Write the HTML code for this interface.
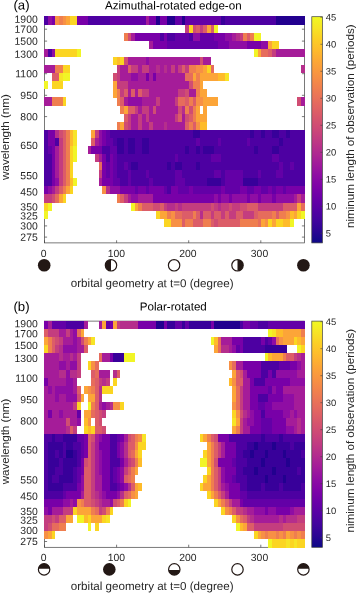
<!DOCTYPE html>
<html><head><meta charset="utf-8"><title>figure</title>
<style>html,body{margin:0;padding:0;background:#fff}svg{display:block}</style></head>
<body>
<svg width="357" height="593" viewBox="0 0 357 593" font-family="Liberation Sans, Arial, sans-serif">
<defs><filter id="bl" filterUnits="userSpaceOnUse" x="30" y="0" width="290" height="593"><feGaussianBlur stdDeviation="0.45"/></filter><linearGradient id="cb" x1="0" y1="0" x2="0" y2="1"><stop offset="0.000" stop-color="#f0f921"/><stop offset="0.050" stop-color="#f7e425"/><stop offset="0.100" stop-color="#fcce25"/><stop offset="0.150" stop-color="#feba2c"/><stop offset="0.200" stop-color="#fca636"/><stop offset="0.250" stop-color="#f89540"/><stop offset="0.300" stop-color="#f2844b"/><stop offset="0.350" stop-color="#ea7457"/><stop offset="0.400" stop-color="#e16462"/><stop offset="0.450" stop-color="#d6556d"/><stop offset="0.500" stop-color="#cc4778"/><stop offset="0.550" stop-color="#bf3984"/><stop offset="0.600" stop-color="#b12a90"/><stop offset="0.650" stop-color="#a11b9b"/><stop offset="0.700" stop-color="#8f0da4"/><stop offset="0.750" stop-color="#7e03a8"/><stop offset="0.800" stop-color="#6a00a8"/><stop offset="0.850" stop-color="#5601a4"/><stop offset="0.900" stop-color="#41049d"/><stop offset="0.950" stop-color="#2a0593"/><stop offset="1.000" stop-color="#0d0887"/></linearGradient></defs>
<rect width="357" height="593" fill="#fff"/>
<rect x="44.50" y="16.70" width="260.00" height="226.20" fill="none" stroke="#404040" stroke-width="0.7"/>
<path d="M44.50 19.20h2.6M304.50 19.20h-2.6" stroke="#404040" stroke-width="0.7"/>
<text transform="translate(37.70 22.80) rotate(0.03)" text-anchor="end" font-size="10.4" fill="#262626">1900</text>
<path d="M44.50 29.20h2.6M304.50 29.20h-2.6" stroke="#404040" stroke-width="0.7"/>
<text transform="translate(37.70 32.80) rotate(0.03)" text-anchor="end" font-size="10.4" fill="#262626">1700</text>
<path d="M44.50 41.10h2.6M304.50 41.10h-2.6" stroke="#404040" stroke-width="0.7"/>
<text transform="translate(37.70 44.70) rotate(0.03)" text-anchor="end" font-size="10.4" fill="#262626">1500</text>
<path d="M44.50 54.10h2.6M304.50 54.10h-2.6" stroke="#404040" stroke-width="0.7"/>
<text transform="translate(37.70 57.70) rotate(0.03)" text-anchor="end" font-size="10.4" fill="#262626">1300</text>
<path d="M44.50 73.70h2.6M304.50 73.70h-2.6" stroke="#404040" stroke-width="0.7"/>
<text transform="translate(37.70 77.30) rotate(0.03)" text-anchor="end" font-size="10.4" fill="#262626">1100</text>
<path d="M44.50 95.30h2.6M304.50 95.30h-2.6" stroke="#404040" stroke-width="0.7"/>
<text transform="translate(37.70 98.90) rotate(0.03)" text-anchor="end" font-size="10.4" fill="#262626">950</text>
<path d="M44.50 116.60h2.6M304.50 116.60h-2.6" stroke="#404040" stroke-width="0.7"/>
<text transform="translate(37.70 120.20) rotate(0.03)" text-anchor="end" font-size="10.4" fill="#262626">800</text>
<path d="M44.50 145.50h2.6M304.50 145.50h-2.6" stroke="#404040" stroke-width="0.7"/>
<text transform="translate(37.70 149.10) rotate(0.03)" text-anchor="end" font-size="10.4" fill="#262626">650</text>
<path d="M44.50 175.60h2.6M304.50 175.60h-2.6" stroke="#404040" stroke-width="0.7"/>
<text transform="translate(37.70 179.20) rotate(0.03)" text-anchor="end" font-size="10.4" fill="#262626">550</text>
<path d="M44.50 191.80h2.6M304.50 191.80h-2.6" stroke="#404040" stroke-width="0.7"/>
<text transform="translate(37.70 195.40) rotate(0.03)" text-anchor="end" font-size="10.4" fill="#262626">450</text>
<path d="M44.50 207.00h2.6M304.50 207.00h-2.6" stroke="#404040" stroke-width="0.7"/>
<text transform="translate(37.70 210.60) rotate(0.03)" text-anchor="end" font-size="10.4" fill="#262626">350</text>
<path d="M44.50 215.80h2.6M304.50 215.80h-2.6" stroke="#404040" stroke-width="0.7"/>
<text transform="translate(37.70 219.40) rotate(0.03)" text-anchor="end" font-size="10.4" fill="#262626">325</text>
<path d="M44.50 225.90h2.6M304.50 225.90h-2.6" stroke="#404040" stroke-width="0.7"/>
<text transform="translate(37.70 229.50) rotate(0.03)" text-anchor="end" font-size="10.4" fill="#262626">300</text>
<path d="M44.50 237.10h2.6M304.50 237.10h-2.6" stroke="#404040" stroke-width="0.7"/>
<text transform="translate(37.70 240.70) rotate(0.03)" text-anchor="end" font-size="10.4" fill="#262626">275</text>
<path d="M44.50 242.90v-2.6M44.50 16.70v2.6" stroke="#404040" stroke-width="0.7"/>
<text transform="translate(43.60 256.90) rotate(0.03)" text-anchor="middle" font-size="10.4" fill="#262626">0</text>
<path d="M116.60 242.90v-2.6M116.60 16.70v2.6" stroke="#404040" stroke-width="0.7"/>
<text transform="translate(116.30 256.90) rotate(0.03)" text-anchor="middle" font-size="10.4" fill="#262626">100</text>
<path d="M188.70 242.90v-2.6M188.70 16.70v2.6" stroke="#404040" stroke-width="0.7"/>
<text transform="translate(187.80 256.90) rotate(0.03)" text-anchor="middle" font-size="10.4" fill="#262626">200</text>
<path d="M260.80 242.90v-2.6M260.80 16.70v2.6" stroke="#404040" stroke-width="0.7"/>
<text transform="translate(259.50 256.90) rotate(0.03)" text-anchor="middle" font-size="10.4" fill="#262626">300</text>
<g filter="url(#bl)"><g shape-rendering="crispEdges"><rect x="44.10" y="16.30" width="4.06" height="8.53" fill="#4e02a2"/>
<rect x="48.11" y="16.30" width="3.66" height="8.53" fill="#8f0da4"/>
<rect x="51.72" y="16.30" width="3.66" height="8.53" fill="#7801a8"/>
<rect x="55.33" y="16.30" width="3.66" height="8.53" fill="#f79044"/>
<rect x="58.94" y="16.30" width="3.66" height="8.53" fill="#ef7e50"/>
<rect x="62.56" y="16.30" width="3.66" height="8.53" fill="#f79044"/>
<rect x="66.17" y="16.30" width="3.66" height="8.53" fill="#fca537"/>
<rect x="69.78" y="16.30" width="7.27" height="8.53" fill="#fbd524"/>
<rect x="77.00" y="16.30" width="10.88" height="8.53" fill="#7801a8"/>
<rect x="87.83" y="16.30" width="21.72" height="8.53" fill="#4e02a2"/>
<rect x="109.50" y="16.30" width="36.16" height="8.53" fill="#6300a7"/>
<rect x="145.61" y="16.30" width="3.66" height="8.53" fill="#a51f99"/>
<rect x="149.22" y="16.30" width="7.27" height="8.53" fill="#7801a8"/>
<rect x="156.44" y="16.30" width="3.66" height="8.53" fill="#20068f"/>
<rect x="160.06" y="16.30" width="7.27" height="8.53" fill="#7801a8"/>
<rect x="167.28" y="16.30" width="7.27" height="8.53" fill="#20068f"/>
<rect x="174.50" y="16.30" width="7.27" height="8.53" fill="#6300a7"/>
<rect x="181.72" y="16.30" width="3.66" height="8.53" fill="#20068f"/>
<rect x="185.33" y="16.30" width="36.16" height="8.53" fill="#6300a7"/>
<rect x="221.44" y="16.30" width="3.66" height="8.53" fill="#38049a"/>
<rect x="225.06" y="16.30" width="50.61" height="8.53" fill="#4e02a2"/>
<rect x="275.61" y="16.30" width="29.34" height="8.53" fill="#20068f"/>
<rect x="185.33" y="24.78" width="3.66" height="8.13" fill="#c43e7f"/>
<rect x="188.94" y="24.78" width="3.66" height="8.13" fill="#fbd524"/>
<rect x="192.56" y="24.78" width="3.66" height="8.13" fill="#d04d73"/>
<rect x="196.17" y="24.78" width="3.66" height="8.13" fill="#dc5d67"/>
<rect x="199.78" y="24.78" width="3.66" height="8.13" fill="#c43e7f"/>
<rect x="203.39" y="24.78" width="3.66" height="8.13" fill="#dc5d67"/>
<rect x="207.00" y="24.78" width="3.66" height="8.13" fill="#fca537"/>
<rect x="210.61" y="24.78" width="3.66" height="8.13" fill="#dc5d67"/>
<rect x="214.22" y="24.78" width="3.66" height="8.13" fill="#f1f525"/>
<rect x="123.94" y="32.86" width="3.66" height="8.13" fill="#ef7e50"/>
<rect x="127.56" y="32.86" width="3.66" height="8.13" fill="#d04d73"/>
<rect x="131.17" y="32.86" width="3.66" height="8.13" fill="#a51f99"/>
<rect x="134.78" y="32.86" width="25.33" height="8.13" fill="#7801a8"/>
<rect x="160.06" y="32.86" width="3.66" height="8.13" fill="#4e02a2"/>
<rect x="163.67" y="32.86" width="3.66" height="8.13" fill="#7801a8"/>
<rect x="167.28" y="32.86" width="7.27" height="8.13" fill="#4e02a2"/>
<rect x="174.50" y="32.86" width="14.49" height="8.13" fill="#6300a7"/>
<rect x="188.94" y="32.86" width="3.66" height="8.13" fill="#4e02a2"/>
<rect x="192.56" y="32.86" width="7.27" height="8.13" fill="#8f0da4"/>
<rect x="199.78" y="32.86" width="14.49" height="8.13" fill="#6300a7"/>
<rect x="214.22" y="32.86" width="10.88" height="8.13" fill="#7801a8"/>
<rect x="225.06" y="32.86" width="7.27" height="8.13" fill="#8f0da4"/>
<rect x="232.28" y="32.86" width="3.66" height="8.13" fill="#a51f99"/>
<rect x="235.89" y="32.86" width="3.66" height="8.13" fill="#b52f8c"/>
<rect x="239.50" y="32.86" width="3.66" height="8.13" fill="#c43e7f"/>
<rect x="243.11" y="32.86" width="3.66" height="8.13" fill="#ef7e50"/>
<rect x="246.72" y="32.86" width="3.66" height="8.13" fill="#dc5d67"/>
<rect x="250.33" y="32.86" width="3.66" height="8.13" fill="#ef7e50"/>
<rect x="253.94" y="32.86" width="7.27" height="8.13" fill="#f1f525"/>
<rect x="149.22" y="40.94" width="3.66" height="8.13" fill="#a51f99"/>
<rect x="152.83" y="40.94" width="14.49" height="8.13" fill="#7801a8"/>
<rect x="167.28" y="40.94" width="50.61" height="8.13" fill="#6300a7"/>
<rect x="217.83" y="40.94" width="10.88" height="8.13" fill="#7801a8"/>
<rect x="228.67" y="40.94" width="18.11" height="8.13" fill="#8f0da4"/>
<rect x="246.72" y="40.94" width="14.49" height="8.13" fill="#7801a8"/>
<rect x="261.17" y="40.94" width="7.27" height="8.13" fill="#8f0da4"/>
<rect x="268.39" y="40.94" width="3.66" height="8.13" fill="#fca537"/>
<rect x="272.00" y="40.94" width="7.27" height="8.13" fill="#fbd524"/>
<rect x="44.10" y="49.01" width="4.06" height="8.13" fill="#a51f99"/>
<rect x="48.11" y="49.01" width="3.66" height="8.13" fill="#4e02a2"/>
<rect x="51.72" y="49.01" width="3.66" height="8.13" fill="#8f0da4"/>
<rect x="55.33" y="49.01" width="21.72" height="8.13" fill="#fbd524"/>
<rect x="77.00" y="49.01" width="3.66" height="8.13" fill="#f1f525"/>
<rect x="253.94" y="49.01" width="3.66" height="8.13" fill="#f1f525"/>
<rect x="257.56" y="49.01" width="3.66" height="8.13" fill="#fca537"/>
<rect x="261.17" y="49.01" width="7.27" height="8.13" fill="#e66c5c"/>
<rect x="268.39" y="49.01" width="3.66" height="8.13" fill="#dc5d67"/>
<rect x="272.00" y="49.01" width="3.66" height="8.13" fill="#c43e7f"/>
<rect x="275.61" y="49.01" width="29.34" height="8.13" fill="#a51f99"/>
<rect x="113.11" y="57.09" width="3.66" height="8.13" fill="#fbd524"/>
<rect x="116.72" y="57.09" width="3.66" height="8.13" fill="#febb2b"/>
<rect x="120.33" y="57.09" width="3.66" height="8.13" fill="#fbd524"/>
<rect x="123.94" y="57.09" width="3.66" height="8.13" fill="#d04d73"/>
<rect x="127.56" y="57.09" width="18.11" height="8.13" fill="#a51f99"/>
<rect x="145.61" y="57.09" width="3.66" height="8.13" fill="#8f0da4"/>
<rect x="149.22" y="57.09" width="50.61" height="8.13" fill="#a51f99"/>
<rect x="199.78" y="57.09" width="3.66" height="8.13" fill="#d04d73"/>
<rect x="203.39" y="57.09" width="7.27" height="8.13" fill="#a51f99"/>
<rect x="44.10" y="65.17" width="11.28" height="8.13" fill="#a51f99"/>
<rect x="55.33" y="65.17" width="7.27" height="8.13" fill="#ef7e50"/>
<rect x="62.56" y="65.17" width="7.27" height="8.13" fill="#fbd524"/>
<rect x="116.72" y="65.17" width="3.66" height="8.13" fill="#c43e7f"/>
<rect x="120.33" y="65.17" width="7.27" height="8.13" fill="#a51f99"/>
<rect x="127.56" y="65.17" width="3.66" height="8.13" fill="#dc5d67"/>
<rect x="131.17" y="65.17" width="7.27" height="8.13" fill="#c43e7f"/>
<rect x="138.39" y="65.17" width="3.66" height="8.13" fill="#a51f99"/>
<rect x="142.00" y="65.17" width="7.27" height="8.13" fill="#c43e7f"/>
<rect x="149.22" y="65.17" width="7.27" height="8.13" fill="#a51f99"/>
<rect x="156.44" y="65.17" width="3.66" height="8.13" fill="#b52f8c"/>
<rect x="160.06" y="65.17" width="3.66" height="8.13" fill="#a51f99"/>
<rect x="163.67" y="65.17" width="3.66" height="8.13" fill="#b52f8c"/>
<rect x="167.28" y="65.17" width="3.66" height="8.13" fill="#a51f99"/>
<rect x="170.89" y="65.17" width="3.66" height="8.13" fill="#c43e7f"/>
<rect x="174.50" y="65.17" width="3.66" height="8.13" fill="#a51f99"/>
<rect x="178.11" y="65.17" width="3.66" height="8.13" fill="#c43e7f"/>
<rect x="181.72" y="65.17" width="3.66" height="8.13" fill="#dc5d67"/>
<rect x="185.33" y="65.17" width="3.66" height="8.13" fill="#c43e7f"/>
<rect x="188.94" y="65.17" width="7.27" height="8.13" fill="#ef7e50"/>
<rect x="196.17" y="65.17" width="7.27" height="8.13" fill="#f79044"/>
<rect x="203.39" y="65.17" width="3.66" height="8.13" fill="#fca537"/>
<rect x="207.00" y="65.17" width="3.66" height="8.13" fill="#fbd524"/>
<rect x="210.61" y="65.17" width="3.66" height="8.13" fill="#e66c5c"/>
<rect x="300.89" y="65.17" width="4.06" height="8.13" fill="#b52f8c"/>
<rect x="51.72" y="73.25" width="7.27" height="8.13" fill="#dc5d67"/>
<rect x="58.94" y="73.25" width="3.66" height="8.13" fill="#f7e425"/>
<rect x="62.56" y="73.25" width="7.27" height="8.13" fill="#f1f525"/>
<rect x="113.11" y="73.25" width="3.66" height="8.13" fill="#d04d73"/>
<rect x="116.72" y="73.25" width="3.66" height="8.13" fill="#c43e7f"/>
<rect x="120.33" y="73.25" width="10.88" height="8.13" fill="#a51f99"/>
<rect x="131.17" y="73.25" width="7.27" height="8.13" fill="#8f0da4"/>
<rect x="138.39" y="73.25" width="7.27" height="8.13" fill="#a51f99"/>
<rect x="145.61" y="73.25" width="3.66" height="8.13" fill="#7801a8"/>
<rect x="149.22" y="73.25" width="3.66" height="8.13" fill="#a51f99"/>
<rect x="152.83" y="73.25" width="3.66" height="8.13" fill="#7801a8"/>
<rect x="156.44" y="73.25" width="28.94" height="8.13" fill="#a51f99"/>
<rect x="185.33" y="73.25" width="7.27" height="8.13" fill="#e66c5c"/>
<rect x="192.56" y="73.25" width="3.66" height="8.13" fill="#fca537"/>
<rect x="196.17" y="73.25" width="3.66" height="8.13" fill="#ef7e50"/>
<rect x="199.78" y="73.25" width="18.11" height="8.13" fill="#fca537"/>
<rect x="217.83" y="73.25" width="7.27" height="8.13" fill="#febb2b"/>
<rect x="225.06" y="73.25" width="3.66" height="8.13" fill="#f7e425"/>
<rect x="44.10" y="81.33" width="4.06" height="8.13" fill="#f1f525"/>
<rect x="51.72" y="81.33" width="10.88" height="8.13" fill="#fbd524"/>
<rect x="113.11" y="81.33" width="3.66" height="8.13" fill="#fca537"/>
<rect x="116.72" y="81.33" width="10.88" height="8.13" fill="#c43e7f"/>
<rect x="127.56" y="81.33" width="61.44" height="8.13" fill="#a51f99"/>
<rect x="188.94" y="81.33" width="3.66" height="8.13" fill="#d04d73"/>
<rect x="192.56" y="81.33" width="7.27" height="8.13" fill="#ef7e50"/>
<rect x="199.78" y="81.33" width="3.66" height="8.13" fill="#fca537"/>
<rect x="113.11" y="89.41" width="3.66" height="8.13" fill="#fca537"/>
<rect x="116.72" y="89.41" width="3.66" height="8.13" fill="#ef7e50"/>
<rect x="120.33" y="89.41" width="3.66" height="8.13" fill="#c43e7f"/>
<rect x="123.94" y="89.41" width="3.66" height="8.13" fill="#dc5d67"/>
<rect x="127.56" y="89.41" width="3.66" height="8.13" fill="#a51f99"/>
<rect x="131.17" y="89.41" width="3.66" height="8.13" fill="#dc5d67"/>
<rect x="134.78" y="89.41" width="3.66" height="8.13" fill="#a51f99"/>
<rect x="138.39" y="89.41" width="3.66" height="8.13" fill="#dc5d67"/>
<rect x="142.00" y="89.41" width="7.27" height="8.13" fill="#c43e7f"/>
<rect x="149.22" y="89.41" width="28.94" height="8.13" fill="#a51f99"/>
<rect x="178.11" y="89.41" width="7.27" height="8.13" fill="#c43e7f"/>
<rect x="185.33" y="89.41" width="3.66" height="8.13" fill="#d04d73"/>
<rect x="188.94" y="89.41" width="7.27" height="8.13" fill="#a51f99"/>
<rect x="196.17" y="89.41" width="3.66" height="8.13" fill="#ef7e50"/>
<rect x="199.78" y="89.41" width="7.27" height="8.13" fill="#fca537"/>
<rect x="44.10" y="97.49" width="7.67" height="8.13" fill="#a51f99"/>
<rect x="51.72" y="97.49" width="10.88" height="8.13" fill="#ef7e50"/>
<rect x="62.56" y="97.49" width="3.66" height="8.13" fill="#fbd524"/>
<rect x="116.72" y="97.49" width="3.66" height="8.13" fill="#ef7e50"/>
<rect x="120.33" y="97.49" width="3.66" height="8.13" fill="#dc5d67"/>
<rect x="123.94" y="97.49" width="3.66" height="8.13" fill="#a51f99"/>
<rect x="127.56" y="97.49" width="14.49" height="8.13" fill="#8f0da4"/>
<rect x="142.00" y="97.49" width="14.49" height="8.13" fill="#a51f99"/>
<rect x="156.44" y="97.49" width="3.66" height="8.13" fill="#c43e7f"/>
<rect x="160.06" y="97.49" width="14.49" height="8.13" fill="#a51f99"/>
<rect x="174.50" y="97.49" width="3.66" height="8.13" fill="#c43e7f"/>
<rect x="178.11" y="97.49" width="7.27" height="8.13" fill="#e66c5c"/>
<rect x="185.33" y="97.49" width="3.66" height="8.13" fill="#dc5d67"/>
<rect x="188.94" y="97.49" width="3.66" height="8.13" fill="#ef7e50"/>
<rect x="192.56" y="97.49" width="3.66" height="8.13" fill="#dc5d67"/>
<rect x="196.17" y="97.49" width="7.27" height="8.13" fill="#f79044"/>
<rect x="203.39" y="97.49" width="14.49" height="8.13" fill="#fca537"/>
<rect x="297.28" y="97.49" width="3.66" height="8.13" fill="#d04d73"/>
<rect x="300.89" y="97.49" width="4.06" height="8.13" fill="#a51f99"/>
<rect x="120.33" y="105.56" width="3.66" height="8.13" fill="#ef7e50"/>
<rect x="123.94" y="105.56" width="3.66" height="8.13" fill="#fca537"/>
<rect x="127.56" y="105.56" width="7.27" height="8.13" fill="#dc5d67"/>
<rect x="134.78" y="105.56" width="3.66" height="8.13" fill="#c43e7f"/>
<rect x="138.39" y="105.56" width="3.66" height="8.13" fill="#a51f99"/>
<rect x="142.00" y="105.56" width="7.27" height="8.13" fill="#c43e7f"/>
<rect x="149.22" y="105.56" width="3.66" height="8.13" fill="#a51f99"/>
<rect x="152.83" y="105.56" width="3.66" height="8.13" fill="#d04d73"/>
<rect x="156.44" y="105.56" width="21.72" height="8.13" fill="#a51f99"/>
<rect x="178.11" y="105.56" width="3.66" height="8.13" fill="#d04d73"/>
<rect x="181.72" y="105.56" width="3.66" height="8.13" fill="#b52f8c"/>
<rect x="185.33" y="105.56" width="3.66" height="8.13" fill="#ef7e50"/>
<rect x="188.94" y="105.56" width="3.66" height="8.13" fill="#d04d73"/>
<rect x="192.56" y="105.56" width="3.66" height="8.13" fill="#ef7e50"/>
<rect x="196.17" y="105.56" width="3.66" height="8.13" fill="#fca537"/>
<rect x="203.39" y="105.56" width="3.66" height="8.13" fill="#fca537"/>
<rect x="123.94" y="113.64" width="3.66" height="8.13" fill="#dc5d67"/>
<rect x="127.56" y="113.64" width="3.66" height="8.13" fill="#c43e7f"/>
<rect x="131.17" y="113.64" width="7.27" height="8.13" fill="#a51f99"/>
<rect x="138.39" y="113.64" width="3.66" height="8.13" fill="#c43e7f"/>
<rect x="142.00" y="113.64" width="3.66" height="8.13" fill="#a51f99"/>
<rect x="145.61" y="113.64" width="3.66" height="8.13" fill="#c43e7f"/>
<rect x="149.22" y="113.64" width="25.33" height="8.13" fill="#a51f99"/>
<rect x="174.50" y="113.64" width="3.66" height="8.13" fill="#c43e7f"/>
<rect x="178.11" y="113.64" width="3.66" height="8.13" fill="#dc5d67"/>
<rect x="181.72" y="113.64" width="3.66" height="8.13" fill="#a51f99"/>
<rect x="185.33" y="113.64" width="3.66" height="8.13" fill="#d04d73"/>
<rect x="188.94" y="113.64" width="3.66" height="8.13" fill="#dc5d67"/>
<rect x="192.56" y="113.64" width="3.66" height="8.13" fill="#ef7e50"/>
<rect x="196.17" y="113.64" width="10.88" height="8.13" fill="#fca537"/>
<rect x="116.72" y="121.72" width="3.66" height="8.13" fill="#ef7e50"/>
<rect x="120.33" y="121.72" width="3.66" height="8.13" fill="#fca537"/>
<rect x="123.94" y="121.72" width="3.66" height="8.13" fill="#d04d73"/>
<rect x="127.56" y="121.72" width="3.66" height="8.13" fill="#c43e7f"/>
<rect x="131.17" y="121.72" width="7.27" height="8.13" fill="#a51f99"/>
<rect x="138.39" y="121.72" width="3.66" height="8.13" fill="#c43e7f"/>
<rect x="142.00" y="121.72" width="7.27" height="8.13" fill="#a51f99"/>
<rect x="149.22" y="121.72" width="3.66" height="8.13" fill="#c43e7f"/>
<rect x="152.83" y="121.72" width="10.88" height="8.13" fill="#a51f99"/>
<rect x="163.67" y="121.72" width="3.66" height="8.13" fill="#b52f8c"/>
<rect x="167.28" y="121.72" width="18.11" height="8.13" fill="#a51f99"/>
<rect x="185.33" y="121.72" width="3.66" height="8.13" fill="#dc5d67"/>
<rect x="188.94" y="121.72" width="3.66" height="8.13" fill="#ef7e50"/>
<rect x="192.56" y="121.72" width="3.66" height="8.13" fill="#dc5d67"/>
<rect x="196.17" y="121.72" width="3.66" height="8.13" fill="#f79044"/>
<rect x="199.78" y="121.72" width="7.27" height="8.13" fill="#febb2b"/>
<rect x="44.10" y="129.80" width="4.06" height="8.13" fill="#4e02a2"/>
<rect x="48.11" y="129.80" width="7.27" height="8.13" fill="#7801a8"/>
<rect x="55.33" y="129.80" width="3.66" height="8.13" fill="#b52f8c"/>
<rect x="58.94" y="129.80" width="3.66" height="8.13" fill="#d04d73"/>
<rect x="62.56" y="129.80" width="3.66" height="8.13" fill="#dc5d67"/>
<rect x="66.17" y="129.80" width="3.66" height="8.13" fill="#ef7e50"/>
<rect x="69.78" y="129.80" width="3.66" height="8.13" fill="#febb2b"/>
<rect x="73.39" y="129.80" width="3.66" height="8.13" fill="#f7e425"/>
<rect x="91.44" y="129.80" width="3.66" height="8.13" fill="#fca537"/>
<rect x="95.06" y="129.80" width="3.66" height="8.13" fill="#c43e7f"/>
<rect x="98.67" y="129.80" width="3.66" height="8.13" fill="#8f0da4"/>
<rect x="102.28" y="129.80" width="3.66" height="8.13" fill="#7801a8"/>
<rect x="105.89" y="129.80" width="3.66" height="8.13" fill="#6300a7"/>
<rect x="109.50" y="129.80" width="83.11" height="8.13" fill="#4e02a2"/>
<rect x="192.56" y="129.80" width="7.27" height="8.13" fill="#38049a"/>
<rect x="199.78" y="129.80" width="50.61" height="8.13" fill="#4e02a2"/>
<rect x="250.33" y="129.80" width="3.66" height="8.13" fill="#38049a"/>
<rect x="253.94" y="129.80" width="7.27" height="8.13" fill="#4e02a2"/>
<rect x="261.17" y="129.80" width="3.66" height="8.13" fill="#38049a"/>
<rect x="264.78" y="129.80" width="7.27" height="8.13" fill="#4e02a2"/>
<rect x="272.00" y="129.80" width="7.27" height="8.13" fill="#38049a"/>
<rect x="279.22" y="129.80" width="7.27" height="8.13" fill="#4e02a2"/>
<rect x="286.44" y="129.80" width="3.66" height="8.13" fill="#38049a"/>
<rect x="290.06" y="129.80" width="14.89" height="8.13" fill="#4e02a2"/>
<rect x="44.10" y="137.88" width="4.06" height="8.13" fill="#4e02a2"/>
<rect x="48.11" y="137.88" width="7.27" height="8.13" fill="#7801a8"/>
<rect x="55.33" y="137.88" width="3.66" height="8.13" fill="#4e02a2"/>
<rect x="58.94" y="137.88" width="3.66" height="8.13" fill="#c43e7f"/>
<rect x="62.56" y="137.88" width="3.66" height="8.13" fill="#dc5d67"/>
<rect x="66.17" y="137.88" width="3.66" height="8.13" fill="#ef7e50"/>
<rect x="69.78" y="137.88" width="3.66" height="8.13" fill="#febb2b"/>
<rect x="73.39" y="137.88" width="3.66" height="8.13" fill="#f7e425"/>
<rect x="91.44" y="137.88" width="3.66" height="8.13" fill="#dc5d67"/>
<rect x="95.06" y="137.88" width="3.66" height="8.13" fill="#a51f99"/>
<rect x="98.67" y="137.88" width="3.66" height="8.13" fill="#8f0da4"/>
<rect x="102.28" y="137.88" width="3.66" height="8.13" fill="#7801a8"/>
<rect x="105.89" y="137.88" width="7.27" height="8.13" fill="#6300a7"/>
<rect x="113.11" y="137.88" width="3.66" height="8.13" fill="#4e02a2"/>
<rect x="116.72" y="137.88" width="7.27" height="8.13" fill="#38049a"/>
<rect x="123.94" y="137.88" width="3.66" height="8.13" fill="#4e02a2"/>
<rect x="127.56" y="137.88" width="7.27" height="8.13" fill="#38049a"/>
<rect x="134.78" y="137.88" width="7.27" height="8.13" fill="#4e02a2"/>
<rect x="142.00" y="137.88" width="7.27" height="8.13" fill="#38049a"/>
<rect x="149.22" y="137.88" width="46.99" height="8.13" fill="#4e02a2"/>
<rect x="196.17" y="137.88" width="3.66" height="8.13" fill="#6300a7"/>
<rect x="199.78" y="137.88" width="18.11" height="8.13" fill="#4e02a2"/>
<rect x="217.83" y="137.88" width="3.66" height="8.13" fill="#6300a7"/>
<rect x="221.44" y="137.88" width="25.33" height="8.13" fill="#4e02a2"/>
<rect x="246.72" y="137.88" width="3.66" height="8.13" fill="#6300a7"/>
<rect x="250.33" y="137.88" width="28.94" height="8.13" fill="#4e02a2"/>
<rect x="279.22" y="137.88" width="3.66" height="8.13" fill="#38049a"/>
<rect x="282.83" y="137.88" width="22.12" height="8.13" fill="#4e02a2"/>
<rect x="44.10" y="145.96" width="4.06" height="8.13" fill="#4e02a2"/>
<rect x="48.11" y="145.96" width="3.66" height="8.13" fill="#6300a7"/>
<rect x="51.72" y="145.96" width="3.66" height="8.13" fill="#7801a8"/>
<rect x="55.33" y="145.96" width="3.66" height="8.13" fill="#a51f99"/>
<rect x="58.94" y="145.96" width="3.66" height="8.13" fill="#c43e7f"/>
<rect x="62.56" y="145.96" width="3.66" height="8.13" fill="#dc5d67"/>
<rect x="66.17" y="145.96" width="3.66" height="8.13" fill="#ef7e50"/>
<rect x="69.78" y="145.96" width="3.66" height="8.13" fill="#fbd524"/>
<rect x="73.39" y="145.96" width="3.66" height="8.13" fill="#f1f525"/>
<rect x="87.83" y="145.96" width="3.66" height="8.13" fill="#a51f99"/>
<rect x="91.44" y="145.96" width="10.88" height="8.13" fill="#7801a8"/>
<rect x="102.28" y="145.96" width="7.27" height="8.13" fill="#4e02a2"/>
<rect x="109.50" y="145.96" width="7.27" height="8.13" fill="#6300a7"/>
<rect x="116.72" y="145.96" width="7.27" height="8.13" fill="#38049a"/>
<rect x="123.94" y="145.96" width="3.66" height="8.13" fill="#4e02a2"/>
<rect x="127.56" y="145.96" width="7.27" height="8.13" fill="#38049a"/>
<rect x="134.78" y="145.96" width="7.27" height="8.13" fill="#4e02a2"/>
<rect x="142.00" y="145.96" width="7.27" height="8.13" fill="#38049a"/>
<rect x="149.22" y="145.96" width="36.16" height="8.13" fill="#4e02a2"/>
<rect x="185.33" y="145.96" width="3.66" height="8.13" fill="#38049a"/>
<rect x="188.94" y="145.96" width="7.27" height="8.13" fill="#4e02a2"/>
<rect x="196.17" y="145.96" width="3.66" height="8.13" fill="#38049a"/>
<rect x="199.78" y="145.96" width="3.66" height="8.13" fill="#4e02a2"/>
<rect x="203.39" y="145.96" width="10.88" height="8.13" fill="#38049a"/>
<rect x="214.22" y="145.96" width="39.77" height="8.13" fill="#4e02a2"/>
<rect x="253.94" y="145.96" width="3.66" height="8.13" fill="#38049a"/>
<rect x="257.56" y="145.96" width="14.49" height="8.13" fill="#4e02a2"/>
<rect x="272.00" y="145.96" width="7.27" height="8.13" fill="#38049a"/>
<rect x="279.22" y="145.96" width="25.73" height="8.13" fill="#4e02a2"/>
<rect x="44.10" y="154.04" width="7.67" height="8.13" fill="#4e02a2"/>
<rect x="51.72" y="154.04" width="3.66" height="8.13" fill="#7801a8"/>
<rect x="55.33" y="154.04" width="3.66" height="8.13" fill="#a51f99"/>
<rect x="58.94" y="154.04" width="3.66" height="8.13" fill="#c43e7f"/>
<rect x="62.56" y="154.04" width="3.66" height="8.13" fill="#dc5d67"/>
<rect x="66.17" y="154.04" width="3.66" height="8.13" fill="#ef7e50"/>
<rect x="69.78" y="154.04" width="3.66" height="8.13" fill="#fbd524"/>
<rect x="73.39" y="154.04" width="3.66" height="8.13" fill="#f1f525"/>
<rect x="95.06" y="154.04" width="3.66" height="8.13" fill="#c43e7f"/>
<rect x="98.67" y="154.04" width="3.66" height="8.13" fill="#a51f99"/>
<rect x="102.28" y="154.04" width="3.66" height="8.13" fill="#7801a8"/>
<rect x="105.89" y="154.04" width="3.66" height="8.13" fill="#4e02a2"/>
<rect x="109.50" y="154.04" width="3.66" height="8.13" fill="#7801a8"/>
<rect x="113.11" y="154.04" width="3.66" height="8.13" fill="#6300a7"/>
<rect x="116.72" y="154.04" width="57.83" height="8.13" fill="#4e02a2"/>
<rect x="174.50" y="154.04" width="3.66" height="8.13" fill="#6300a7"/>
<rect x="178.11" y="154.04" width="32.55" height="8.13" fill="#4e02a2"/>
<rect x="210.61" y="154.04" width="10.88" height="8.13" fill="#6300a7"/>
<rect x="221.44" y="154.04" width="50.61" height="8.13" fill="#4e02a2"/>
<rect x="272.00" y="154.04" width="7.27" height="8.13" fill="#6300a7"/>
<rect x="279.22" y="154.04" width="25.73" height="8.13" fill="#4e02a2"/>
<rect x="44.10" y="162.11" width="7.67" height="8.13" fill="#4e02a2"/>
<rect x="51.72" y="162.11" width="3.66" height="8.13" fill="#7801a8"/>
<rect x="55.33" y="162.11" width="3.66" height="8.13" fill="#a51f99"/>
<rect x="58.94" y="162.11" width="3.66" height="8.13" fill="#c43e7f"/>
<rect x="62.56" y="162.11" width="3.66" height="8.13" fill="#dc5d67"/>
<rect x="66.17" y="162.11" width="3.66" height="8.13" fill="#ef7e50"/>
<rect x="69.78" y="162.11" width="3.66" height="8.13" fill="#fbd524"/>
<rect x="98.67" y="162.11" width="3.66" height="8.13" fill="#e66c5c"/>
<rect x="102.28" y="162.11" width="3.66" height="8.13" fill="#7801a8"/>
<rect x="105.89" y="162.11" width="3.66" height="8.13" fill="#6300a7"/>
<rect x="109.50" y="162.11" width="3.66" height="8.13" fill="#7801a8"/>
<rect x="113.11" y="162.11" width="3.66" height="8.13" fill="#6300a7"/>
<rect x="116.72" y="162.11" width="7.27" height="8.13" fill="#4e02a2"/>
<rect x="123.94" y="162.11" width="3.66" height="8.13" fill="#6300a7"/>
<rect x="127.56" y="162.11" width="3.66" height="8.13" fill="#4e02a2"/>
<rect x="131.17" y="162.11" width="7.27" height="8.13" fill="#38049a"/>
<rect x="138.39" y="162.11" width="28.94" height="8.13" fill="#4e02a2"/>
<rect x="167.28" y="162.11" width="3.66" height="8.13" fill="#38049a"/>
<rect x="170.89" y="162.11" width="3.66" height="8.13" fill="#4e02a2"/>
<rect x="174.50" y="162.11" width="7.27" height="8.13" fill="#38049a"/>
<rect x="181.72" y="162.11" width="14.49" height="8.13" fill="#4e02a2"/>
<rect x="196.17" y="162.11" width="3.66" height="8.13" fill="#38049a"/>
<rect x="199.78" y="162.11" width="79.49" height="8.13" fill="#4e02a2"/>
<rect x="279.22" y="162.11" width="3.66" height="8.13" fill="#6300a7"/>
<rect x="282.83" y="162.11" width="7.27" height="8.13" fill="#4e02a2"/>
<rect x="290.06" y="162.11" width="3.66" height="8.13" fill="#6300a7"/>
<rect x="293.67" y="162.11" width="11.28" height="8.13" fill="#4e02a2"/>
<rect x="44.10" y="170.19" width="7.67" height="8.13" fill="#4e02a2"/>
<rect x="51.72" y="170.19" width="3.66" height="8.13" fill="#7801a8"/>
<rect x="55.33" y="170.19" width="3.66" height="8.13" fill="#a51f99"/>
<rect x="58.94" y="170.19" width="3.66" height="8.13" fill="#c43e7f"/>
<rect x="62.56" y="170.19" width="3.66" height="8.13" fill="#dc5d67"/>
<rect x="66.17" y="170.19" width="3.66" height="8.13" fill="#ef7e50"/>
<rect x="69.78" y="170.19" width="3.66" height="8.13" fill="#fbd524"/>
<rect x="98.67" y="170.19" width="3.66" height="8.13" fill="#c43e7f"/>
<rect x="102.28" y="170.19" width="3.66" height="8.13" fill="#7801a8"/>
<rect x="105.89" y="170.19" width="3.66" height="8.13" fill="#6300a7"/>
<rect x="109.50" y="170.19" width="3.66" height="8.13" fill="#7801a8"/>
<rect x="113.11" y="170.19" width="3.66" height="8.13" fill="#6300a7"/>
<rect x="116.72" y="170.19" width="10.88" height="8.13" fill="#4e02a2"/>
<rect x="127.56" y="170.19" width="3.66" height="8.13" fill="#6300a7"/>
<rect x="131.17" y="170.19" width="14.49" height="8.13" fill="#4e02a2"/>
<rect x="145.61" y="170.19" width="3.66" height="8.13" fill="#6300a7"/>
<rect x="149.22" y="170.19" width="25.33" height="8.13" fill="#4e02a2"/>
<rect x="174.50" y="170.19" width="7.27" height="8.13" fill="#6300a7"/>
<rect x="181.72" y="170.19" width="32.55" height="8.13" fill="#4e02a2"/>
<rect x="214.22" y="170.19" width="7.27" height="8.13" fill="#6300a7"/>
<rect x="221.44" y="170.19" width="3.66" height="8.13" fill="#4e02a2"/>
<rect x="225.06" y="170.19" width="18.11" height="8.13" fill="#6300a7"/>
<rect x="243.11" y="170.19" width="14.49" height="8.13" fill="#4e02a2"/>
<rect x="257.56" y="170.19" width="3.66" height="8.13" fill="#6300a7"/>
<rect x="261.17" y="170.19" width="14.49" height="8.13" fill="#4e02a2"/>
<rect x="275.61" y="170.19" width="7.27" height="8.13" fill="#6300a7"/>
<rect x="282.83" y="170.19" width="22.12" height="8.13" fill="#4e02a2"/>
<rect x="44.10" y="178.27" width="7.67" height="8.13" fill="#4e02a2"/>
<rect x="51.72" y="178.27" width="3.66" height="8.13" fill="#7801a8"/>
<rect x="55.33" y="178.27" width="3.66" height="8.13" fill="#8f0da4"/>
<rect x="58.94" y="178.27" width="3.66" height="8.13" fill="#c43e7f"/>
<rect x="62.56" y="178.27" width="3.66" height="8.13" fill="#dc5d67"/>
<rect x="66.17" y="178.27" width="3.66" height="8.13" fill="#ef7e50"/>
<rect x="69.78" y="178.27" width="3.66" height="8.13" fill="#febb2b"/>
<rect x="73.39" y="178.27" width="3.66" height="8.13" fill="#f1f525"/>
<rect x="98.67" y="178.27" width="3.66" height="8.13" fill="#a51f99"/>
<rect x="102.28" y="178.27" width="10.88" height="8.13" fill="#7801a8"/>
<rect x="113.11" y="178.27" width="7.27" height="8.13" fill="#6300a7"/>
<rect x="120.33" y="178.27" width="7.27" height="8.13" fill="#4e02a2"/>
<rect x="127.56" y="178.27" width="3.66" height="8.13" fill="#6300a7"/>
<rect x="131.17" y="178.27" width="18.11" height="8.13" fill="#4e02a2"/>
<rect x="149.22" y="178.27" width="3.66" height="8.13" fill="#6300a7"/>
<rect x="152.83" y="178.27" width="21.72" height="8.13" fill="#4e02a2"/>
<rect x="174.50" y="178.27" width="10.88" height="8.13" fill="#6300a7"/>
<rect x="185.33" y="178.27" width="21.72" height="8.13" fill="#4e02a2"/>
<rect x="207.00" y="178.27" width="14.49" height="8.13" fill="#38049a"/>
<rect x="221.44" y="178.27" width="3.66" height="8.13" fill="#4e02a2"/>
<rect x="225.06" y="178.27" width="18.11" height="8.13" fill="#6300a7"/>
<rect x="243.11" y="178.27" width="14.49" height="8.13" fill="#38049a"/>
<rect x="257.56" y="178.27" width="47.39" height="8.13" fill="#4e02a2"/>
<rect x="44.10" y="186.35" width="4.06" height="8.13" fill="#7801a8"/>
<rect x="48.11" y="186.35" width="3.66" height="8.13" fill="#8f0da4"/>
<rect x="51.72" y="186.35" width="3.66" height="8.13" fill="#a51f99"/>
<rect x="55.33" y="186.35" width="3.66" height="8.13" fill="#c43e7f"/>
<rect x="58.94" y="186.35" width="3.66" height="8.13" fill="#dc5d67"/>
<rect x="62.56" y="186.35" width="3.66" height="8.13" fill="#ef7e50"/>
<rect x="66.17" y="186.35" width="3.66" height="8.13" fill="#fca537"/>
<rect x="69.78" y="186.35" width="3.66" height="8.13" fill="#fbd524"/>
<rect x="102.28" y="186.35" width="3.66" height="8.13" fill="#f79044"/>
<rect x="105.89" y="186.35" width="3.66" height="8.13" fill="#b52f8c"/>
<rect x="109.50" y="186.35" width="10.88" height="8.13" fill="#8f0da4"/>
<rect x="120.33" y="186.35" width="14.49" height="8.13" fill="#7801a8"/>
<rect x="134.78" y="186.35" width="3.66" height="8.13" fill="#6300a7"/>
<rect x="138.39" y="186.35" width="7.27" height="8.13" fill="#7801a8"/>
<rect x="145.61" y="186.35" width="3.66" height="8.13" fill="#6300a7"/>
<rect x="149.22" y="186.35" width="14.49" height="8.13" fill="#7801a8"/>
<rect x="163.67" y="186.35" width="3.66" height="8.13" fill="#6300a7"/>
<rect x="167.28" y="186.35" width="3.66" height="8.13" fill="#4e02a2"/>
<rect x="170.89" y="186.35" width="7.27" height="8.13" fill="#7801a8"/>
<rect x="178.11" y="186.35" width="10.88" height="8.13" fill="#6300a7"/>
<rect x="188.94" y="186.35" width="3.66" height="8.13" fill="#7801a8"/>
<rect x="192.56" y="186.35" width="28.94" height="8.13" fill="#6300a7"/>
<rect x="221.44" y="186.35" width="3.66" height="8.13" fill="#7801a8"/>
<rect x="225.06" y="186.35" width="14.49" height="8.13" fill="#6300a7"/>
<rect x="239.50" y="186.35" width="7.27" height="8.13" fill="#7801a8"/>
<rect x="246.72" y="186.35" width="7.27" height="8.13" fill="#6300a7"/>
<rect x="253.94" y="186.35" width="7.27" height="8.13" fill="#7801a8"/>
<rect x="261.17" y="186.35" width="7.27" height="8.13" fill="#6300a7"/>
<rect x="268.39" y="186.35" width="3.66" height="8.13" fill="#7801a8"/>
<rect x="272.00" y="186.35" width="3.66" height="8.13" fill="#6300a7"/>
<rect x="275.61" y="186.35" width="7.27" height="8.13" fill="#7801a8"/>
<rect x="282.83" y="186.35" width="3.66" height="8.13" fill="#6300a7"/>
<rect x="286.44" y="186.35" width="18.51" height="8.13" fill="#7801a8"/>
<rect x="44.10" y="194.43" width="7.67" height="8.13" fill="#c43e7f"/>
<rect x="51.72" y="194.43" width="3.66" height="8.13" fill="#d04d73"/>
<rect x="55.33" y="194.43" width="3.66" height="8.13" fill="#e66c5c"/>
<rect x="58.94" y="194.43" width="3.66" height="8.13" fill="#fca537"/>
<rect x="62.56" y="194.43" width="3.66" height="8.13" fill="#fbd524"/>
<rect x="116.72" y="194.43" width="3.66" height="8.13" fill="#ef7e50"/>
<rect x="120.33" y="194.43" width="3.66" height="8.13" fill="#dc5d67"/>
<rect x="123.94" y="194.43" width="3.66" height="8.13" fill="#c43e7f"/>
<rect x="127.56" y="194.43" width="3.66" height="8.13" fill="#a51f99"/>
<rect x="131.17" y="194.43" width="7.27" height="8.13" fill="#8f0da4"/>
<rect x="138.39" y="194.43" width="14.49" height="8.13" fill="#a51f99"/>
<rect x="152.83" y="194.43" width="61.44" height="8.13" fill="#7801a8"/>
<rect x="214.22" y="194.43" width="3.66" height="8.13" fill="#8f0da4"/>
<rect x="217.83" y="194.43" width="3.66" height="8.13" fill="#7801a8"/>
<rect x="221.44" y="194.43" width="7.27" height="8.13" fill="#8f0da4"/>
<rect x="228.67" y="194.43" width="3.66" height="8.13" fill="#7801a8"/>
<rect x="232.28" y="194.43" width="14.49" height="8.13" fill="#8f0da4"/>
<rect x="246.72" y="194.43" width="3.66" height="8.13" fill="#7801a8"/>
<rect x="250.33" y="194.43" width="7.27" height="8.13" fill="#8f0da4"/>
<rect x="257.56" y="194.43" width="3.66" height="8.13" fill="#7801a8"/>
<rect x="261.17" y="194.43" width="10.88" height="8.13" fill="#8f0da4"/>
<rect x="272.00" y="194.43" width="3.66" height="8.13" fill="#7801a8"/>
<rect x="275.61" y="194.43" width="18.11" height="8.13" fill="#8f0da4"/>
<rect x="293.67" y="194.43" width="3.66" height="8.13" fill="#a51f99"/>
<rect x="297.28" y="194.43" width="3.66" height="8.13" fill="#c43e7f"/>
<rect x="300.89" y="194.43" width="4.06" height="8.13" fill="#a51f99"/>
<rect x="44.10" y="202.51" width="4.06" height="8.13" fill="#fbd524"/>
<rect x="48.11" y="202.51" width="3.66" height="8.13" fill="#f1f525"/>
<rect x="131.17" y="202.51" width="3.66" height="8.13" fill="#f1f525"/>
<rect x="134.78" y="202.51" width="3.66" height="8.13" fill="#fca537"/>
<rect x="138.39" y="202.51" width="3.66" height="8.13" fill="#ef7e50"/>
<rect x="142.00" y="202.51" width="10.88" height="8.13" fill="#dc5d67"/>
<rect x="152.83" y="202.51" width="7.27" height="8.13" fill="#d04d73"/>
<rect x="160.06" y="202.51" width="3.66" height="8.13" fill="#dc5d67"/>
<rect x="163.67" y="202.51" width="3.66" height="8.13" fill="#c43e7f"/>
<rect x="167.28" y="202.51" width="7.27" height="8.13" fill="#b52f8c"/>
<rect x="174.50" y="202.51" width="3.66" height="8.13" fill="#c43e7f"/>
<rect x="178.11" y="202.51" width="3.66" height="8.13" fill="#b52f8c"/>
<rect x="181.72" y="202.51" width="28.94" height="8.13" fill="#c43e7f"/>
<rect x="210.61" y="202.51" width="3.66" height="8.13" fill="#d04d73"/>
<rect x="214.22" y="202.51" width="3.66" height="8.13" fill="#c43e7f"/>
<rect x="217.83" y="202.51" width="3.66" height="8.13" fill="#b52f8c"/>
<rect x="221.44" y="202.51" width="7.27" height="8.13" fill="#c43e7f"/>
<rect x="228.67" y="202.51" width="3.66" height="8.13" fill="#d04d73"/>
<rect x="232.28" y="202.51" width="7.27" height="8.13" fill="#c43e7f"/>
<rect x="239.50" y="202.51" width="7.27" height="8.13" fill="#d04d73"/>
<rect x="246.72" y="202.51" width="10.88" height="8.13" fill="#dc5d67"/>
<rect x="257.56" y="202.51" width="25.33" height="8.13" fill="#c43e7f"/>
<rect x="282.83" y="202.51" width="14.49" height="8.13" fill="#dc5d67"/>
<rect x="297.28" y="202.51" width="3.66" height="8.13" fill="#fca537"/>
<rect x="300.89" y="202.51" width="4.06" height="8.13" fill="#e66c5c"/>
<rect x="44.10" y="210.59" width="4.06" height="8.13" fill="#f1f525"/>
<rect x="156.44" y="210.59" width="3.66" height="8.13" fill="#fbd524"/>
<rect x="160.06" y="210.59" width="7.27" height="8.13" fill="#fca537"/>
<rect x="167.28" y="210.59" width="3.66" height="8.13" fill="#ef7e50"/>
<rect x="170.89" y="210.59" width="3.66" height="8.13" fill="#f79044"/>
<rect x="174.50" y="210.59" width="7.27" height="8.13" fill="#e66c5c"/>
<rect x="181.72" y="210.59" width="10.88" height="8.13" fill="#dc5d67"/>
<rect x="192.56" y="210.59" width="3.66" height="8.13" fill="#ef7e50"/>
<rect x="196.17" y="210.59" width="3.66" height="8.13" fill="#dc5d67"/>
<rect x="199.78" y="210.59" width="3.66" height="8.13" fill="#b52f8c"/>
<rect x="203.39" y="210.59" width="7.27" height="8.13" fill="#dc5d67"/>
<rect x="210.61" y="210.59" width="3.66" height="8.13" fill="#c43e7f"/>
<rect x="214.22" y="210.59" width="7.27" height="8.13" fill="#dc5d67"/>
<rect x="221.44" y="210.59" width="3.66" height="8.13" fill="#c43e7f"/>
<rect x="225.06" y="210.59" width="3.66" height="8.13" fill="#dc5d67"/>
<rect x="228.67" y="210.59" width="7.27" height="8.13" fill="#c43e7f"/>
<rect x="235.89" y="210.59" width="7.27" height="8.13" fill="#dc5d67"/>
<rect x="243.11" y="210.59" width="10.88" height="8.13" fill="#c43e7f"/>
<rect x="253.94" y="210.59" width="3.66" height="8.13" fill="#dc5d67"/>
<rect x="257.56" y="210.59" width="14.49" height="8.13" fill="#e66c5c"/>
<rect x="272.00" y="210.59" width="3.66" height="8.13" fill="#ef7e50"/>
<rect x="275.61" y="210.59" width="3.66" height="8.13" fill="#dc5d67"/>
<rect x="279.22" y="210.59" width="7.27" height="8.13" fill="#ef7e50"/>
<rect x="286.44" y="210.59" width="3.66" height="8.13" fill="#f79044"/>
<rect x="290.06" y="210.59" width="3.66" height="8.13" fill="#febb2b"/>
<rect x="293.67" y="210.59" width="3.66" height="8.13" fill="#fca537"/>
<rect x="297.28" y="210.59" width="3.66" height="8.13" fill="#fbd524"/>
<rect x="300.89" y="210.59" width="4.06" height="8.13" fill="#f1f525"/>
<rect x="163.67" y="218.66" width="7.27" height="8.13" fill="#fbd524"/>
<rect x="170.89" y="218.66" width="10.88" height="8.13" fill="#f79044"/>
<rect x="181.72" y="218.66" width="3.66" height="8.13" fill="#dc5d67"/>
<rect x="185.33" y="218.66" width="7.27" height="8.13" fill="#ef7e50"/>
<rect x="192.56" y="218.66" width="10.88" height="8.13" fill="#dc5d67"/>
<rect x="203.39" y="218.66" width="7.27" height="8.13" fill="#ef7e50"/>
<rect x="210.61" y="218.66" width="3.66" height="8.13" fill="#dc5d67"/>
<rect x="214.22" y="218.66" width="3.66" height="8.13" fill="#d04d73"/>
<rect x="217.83" y="218.66" width="21.72" height="8.13" fill="#dc5d67"/>
<rect x="239.50" y="218.66" width="18.11" height="8.13" fill="#ef7e50"/>
<rect x="257.56" y="218.66" width="3.66" height="8.13" fill="#e66c5c"/>
<rect x="261.17" y="218.66" width="3.66" height="8.13" fill="#fca537"/>
<rect x="264.78" y="218.66" width="3.66" height="8.13" fill="#f79044"/>
<rect x="268.39" y="218.66" width="3.66" height="8.13" fill="#fbd524"/>
<rect x="272.00" y="218.66" width="3.66" height="8.13" fill="#fca537"/>
<rect x="275.61" y="218.66" width="7.27" height="8.13" fill="#fbd524"/>
<rect x="282.83" y="218.66" width="7.27" height="8.13" fill="#febb2b"/>
<rect x="290.06" y="218.66" width="3.66" height="8.13" fill="#f1f525"/></g></g>
<rect x="311.8" y="16.70" width="10.6" height="226.20" fill="url(#cb)" stroke="#404040" stroke-width="0.7"/>
<path d="M322.4 233.30h-2" stroke="#404040" stroke-width="0.6"/>
<text transform="translate(325.70 236.60) rotate(0.03)" text-anchor="start" font-size="9.4" fill="#262626">5</text>
<path d="M322.4 206.30h-2" stroke="#404040" stroke-width="0.6"/>
<text transform="translate(325.70 209.60) rotate(0.03)" text-anchor="start" font-size="9.4" fill="#262626">10</text>
<path d="M322.4 179.30h-2" stroke="#404040" stroke-width="0.6"/>
<text transform="translate(325.70 182.60) rotate(0.03)" text-anchor="start" font-size="9.4" fill="#262626">15</text>
<path d="M322.4 152.30h-2" stroke="#404040" stroke-width="0.6"/>
<text transform="translate(325.70 155.60) rotate(0.03)" text-anchor="start" font-size="9.4" fill="#262626">20</text>
<path d="M322.4 125.30h-2" stroke="#404040" stroke-width="0.6"/>
<text transform="translate(325.70 128.60) rotate(0.03)" text-anchor="start" font-size="9.4" fill="#262626">25</text>
<path d="M322.4 98.30h-2" stroke="#404040" stroke-width="0.6"/>
<text transform="translate(325.70 101.60) rotate(0.03)" text-anchor="start" font-size="9.4" fill="#262626">30</text>
<path d="M322.4 71.30h-2" stroke="#404040" stroke-width="0.6"/>
<text transform="translate(325.70 74.60) rotate(0.03)" text-anchor="start" font-size="9.4" fill="#262626">35</text>
<path d="M322.4 44.30h-2" stroke="#404040" stroke-width="0.6"/>
<text transform="translate(325.70 47.60) rotate(0.03)" text-anchor="start" font-size="9.4" fill="#262626">40</text>
<path d="M322.4 17.30h-2" stroke="#404040" stroke-width="0.6"/>
<text transform="translate(325.70 20.60) rotate(0.03)" text-anchor="start" font-size="9.4" fill="#262626">45</text>
<text transform="translate(354.3 126.20) rotate(-90)" text-anchor="middle" font-size="11.6" fill="#262626">niminum length of observation (periods)</text>
<text transform="translate(8.6 137.10) rotate(-90)" text-anchor="middle" font-size="11.6" fill="#262626">wavelength (nm)</text>
<text transform="translate(70.80 287.10) rotate(0.03)" text-anchor="start" font-size="11.6" fill="#262626">orbital geometry at t=0 (degree)</text>
<text transform="translate(13.40 9.50) rotate(0.03)" text-anchor="start" font-size="13.2" fill="#000">(a)</text>
<text transform="translate(173.30 9.40) rotate(0.03)" text-anchor="middle" font-size="11.6" fill="#000">Azimuthal-rotated edge-on</text>
<circle cx="44.20" cy="265.30" r="6.3" fill="#231815"/>
<circle cx="111.00" cy="265.30" r="5.70" fill="#fff" stroke="#231815" stroke-width="1.2"/>
<path d="M111.00 259.60a5.70 5.70 0 0 0 0 11.40z" fill="#231815"/>
<circle cx="174.10" cy="265.30" r="5.70" fill="#fff" stroke="#231815" stroke-width="1.2"/>
<circle cx="237.50" cy="265.30" r="5.70" fill="#fff" stroke="#231815" stroke-width="1.2"/>
<path d="M237.50 259.60a5.70 5.70 0 0 1 0 11.40z" fill="#231815"/>
<circle cx="303.40" cy="265.30" r="6.3" fill="#231815"/>
<rect x="44.50" y="321.10" width="260.00" height="226.20" fill="none" stroke="#404040" stroke-width="0.7"/>
<path d="M44.50 323.60h2.6M304.50 323.60h-2.6" stroke="#404040" stroke-width="0.7"/>
<text transform="translate(37.70 327.20) rotate(0.03)" text-anchor="end" font-size="10.4" fill="#262626">1900</text>
<path d="M44.50 333.60h2.6M304.50 333.60h-2.6" stroke="#404040" stroke-width="0.7"/>
<text transform="translate(37.70 337.20) rotate(0.03)" text-anchor="end" font-size="10.4" fill="#262626">1700</text>
<path d="M44.50 345.50h2.6M304.50 345.50h-2.6" stroke="#404040" stroke-width="0.7"/>
<text transform="translate(37.70 349.10) rotate(0.03)" text-anchor="end" font-size="10.4" fill="#262626">1500</text>
<path d="M44.50 358.50h2.6M304.50 358.50h-2.6" stroke="#404040" stroke-width="0.7"/>
<text transform="translate(37.70 362.10) rotate(0.03)" text-anchor="end" font-size="10.4" fill="#262626">1300</text>
<path d="M44.50 378.10h2.6M304.50 378.10h-2.6" stroke="#404040" stroke-width="0.7"/>
<text transform="translate(37.70 381.70) rotate(0.03)" text-anchor="end" font-size="10.4" fill="#262626">1100</text>
<path d="M44.50 399.70h2.6M304.50 399.70h-2.6" stroke="#404040" stroke-width="0.7"/>
<text transform="translate(37.70 403.30) rotate(0.03)" text-anchor="end" font-size="10.4" fill="#262626">950</text>
<path d="M44.50 421.00h2.6M304.50 421.00h-2.6" stroke="#404040" stroke-width="0.7"/>
<text transform="translate(37.70 424.60) rotate(0.03)" text-anchor="end" font-size="10.4" fill="#262626">800</text>
<path d="M44.50 449.90h2.6M304.50 449.90h-2.6" stroke="#404040" stroke-width="0.7"/>
<text transform="translate(37.70 453.50) rotate(0.03)" text-anchor="end" font-size="10.4" fill="#262626">650</text>
<path d="M44.50 480.00h2.6M304.50 480.00h-2.6" stroke="#404040" stroke-width="0.7"/>
<text transform="translate(37.70 483.60) rotate(0.03)" text-anchor="end" font-size="10.4" fill="#262626">550</text>
<path d="M44.50 496.20h2.6M304.50 496.20h-2.6" stroke="#404040" stroke-width="0.7"/>
<text transform="translate(37.70 499.80) rotate(0.03)" text-anchor="end" font-size="10.4" fill="#262626">450</text>
<path d="M44.50 511.40h2.6M304.50 511.40h-2.6" stroke="#404040" stroke-width="0.7"/>
<text transform="translate(37.70 515.00) rotate(0.03)" text-anchor="end" font-size="10.4" fill="#262626">350</text>
<path d="M44.50 520.20h2.6M304.50 520.20h-2.6" stroke="#404040" stroke-width="0.7"/>
<text transform="translate(37.70 523.80) rotate(0.03)" text-anchor="end" font-size="10.4" fill="#262626">325</text>
<path d="M44.50 530.30h2.6M304.50 530.30h-2.6" stroke="#404040" stroke-width="0.7"/>
<text transform="translate(37.70 533.90) rotate(0.03)" text-anchor="end" font-size="10.4" fill="#262626">300</text>
<path d="M44.50 541.50h2.6M304.50 541.50h-2.6" stroke="#404040" stroke-width="0.7"/>
<text transform="translate(37.70 545.10) rotate(0.03)" text-anchor="end" font-size="10.4" fill="#262626">275</text>
<path d="M44.50 547.30v-2.6M44.50 321.10v2.6" stroke="#404040" stroke-width="0.7"/>
<text transform="translate(43.60 561.00) rotate(0.03)" text-anchor="middle" font-size="10.4" fill="#262626">0</text>
<path d="M116.60 547.30v-2.6M116.60 321.10v2.6" stroke="#404040" stroke-width="0.7"/>
<text transform="translate(116.30 561.00) rotate(0.03)" text-anchor="middle" font-size="10.4" fill="#262626">100</text>
<path d="M188.70 547.30v-2.6M188.70 321.10v2.6" stroke="#404040" stroke-width="0.7"/>
<text transform="translate(187.80 561.00) rotate(0.03)" text-anchor="middle" font-size="10.4" fill="#262626">200</text>
<path d="M260.80 547.30v-2.6M260.80 321.10v2.6" stroke="#404040" stroke-width="0.7"/>
<text transform="translate(259.50 561.00) rotate(0.03)" text-anchor="middle" font-size="10.4" fill="#262626">300</text>
<g filter="url(#bl)"><g shape-rendering="crispEdges"><rect x="44.10" y="320.70" width="4.06" height="8.53" fill="#7801a8"/>
<rect x="48.11" y="320.70" width="3.66" height="8.53" fill="#a51f99"/>
<rect x="51.72" y="320.70" width="14.49" height="8.53" fill="#6300a7"/>
<rect x="66.17" y="320.70" width="18.11" height="8.53" fill="#4e02a2"/>
<rect x="84.22" y="320.70" width="3.66" height="8.53" fill="#a51f99"/>
<rect x="98.67" y="320.70" width="3.66" height="8.53" fill="#a51f99"/>
<rect x="102.28" y="320.70" width="3.66" height="8.53" fill="#fca537"/>
<rect x="105.89" y="320.70" width="3.66" height="8.53" fill="#6300a7"/>
<rect x="109.50" y="320.70" width="3.66" height="8.53" fill="#7801a8"/>
<rect x="113.11" y="320.70" width="3.66" height="8.53" fill="#fca537"/>
<rect x="116.72" y="320.70" width="3.66" height="8.53" fill="#c43e7f"/>
<rect x="120.33" y="320.70" width="18.11" height="8.53" fill="#b52f8c"/>
<rect x="138.39" y="320.70" width="18.11" height="8.53" fill="#7801a8"/>
<rect x="156.44" y="320.70" width="7.27" height="8.53" fill="#20068f"/>
<rect x="163.67" y="320.70" width="3.66" height="8.53" fill="#7801a8"/>
<rect x="167.28" y="320.70" width="7.27" height="8.53" fill="#38049a"/>
<rect x="174.50" y="320.70" width="7.27" height="8.53" fill="#6300a7"/>
<rect x="181.72" y="320.70" width="3.66" height="8.53" fill="#38049a"/>
<rect x="185.33" y="320.70" width="3.66" height="8.53" fill="#6300a7"/>
<rect x="188.94" y="320.70" width="21.72" height="8.53" fill="#38049a"/>
<rect x="210.61" y="320.70" width="3.66" height="8.53" fill="#7801a8"/>
<rect x="214.22" y="320.70" width="25.33" height="8.53" fill="#20068f"/>
<rect x="239.50" y="320.70" width="3.66" height="8.53" fill="#4e02a2"/>
<rect x="243.11" y="320.70" width="7.27" height="8.53" fill="#7801a8"/>
<rect x="250.33" y="320.70" width="7.27" height="8.53" fill="#6300a7"/>
<rect x="257.56" y="320.70" width="10.88" height="8.53" fill="#4e02a2"/>
<rect x="268.39" y="320.70" width="36.56" height="8.53" fill="#6300a7"/>
<rect x="44.10" y="329.18" width="4.06" height="8.13" fill="#dc5d67"/>
<rect x="48.11" y="329.18" width="10.88" height="8.13" fill="#c43e7f"/>
<rect x="58.94" y="329.18" width="7.27" height="8.13" fill="#a51f99"/>
<rect x="66.17" y="329.18" width="3.66" height="8.13" fill="#c43e7f"/>
<rect x="69.78" y="329.18" width="3.66" height="8.13" fill="#a51f99"/>
<rect x="73.39" y="329.18" width="3.66" height="8.13" fill="#8f0da4"/>
<rect x="77.00" y="329.18" width="3.66" height="8.13" fill="#e66c5c"/>
<rect x="80.61" y="329.18" width="3.66" height="8.13" fill="#fca537"/>
<rect x="268.39" y="329.18" width="3.66" height="8.13" fill="#f1f525"/>
<rect x="272.00" y="329.18" width="3.66" height="8.13" fill="#f7e425"/>
<rect x="275.61" y="329.18" width="7.27" height="8.13" fill="#febb2b"/>
<rect x="282.83" y="329.18" width="18.11" height="8.13" fill="#fca537"/>
<rect x="300.89" y="329.18" width="4.06" height="8.13" fill="#ef7e50"/>
<rect x="44.10" y="337.26" width="4.06" height="8.13" fill="#fca537"/>
<rect x="48.11" y="337.26" width="3.66" height="8.13" fill="#ef7e50"/>
<rect x="51.72" y="337.26" width="3.66" height="8.13" fill="#dc5d67"/>
<rect x="55.33" y="337.26" width="3.66" height="8.13" fill="#d04d73"/>
<rect x="58.94" y="337.26" width="3.66" height="8.13" fill="#c43e7f"/>
<rect x="62.56" y="337.26" width="10.88" height="8.13" fill="#a51f99"/>
<rect x="73.39" y="337.26" width="3.66" height="8.13" fill="#8f0da4"/>
<rect x="77.00" y="337.26" width="3.66" height="8.13" fill="#a51f99"/>
<rect x="80.61" y="337.26" width="3.66" height="8.13" fill="#d04d73"/>
<rect x="84.22" y="337.26" width="3.66" height="8.13" fill="#ef7e50"/>
<rect x="87.83" y="337.26" width="3.66" height="8.13" fill="#fca537"/>
<rect x="91.44" y="337.26" width="3.66" height="8.13" fill="#f7e425"/>
<rect x="210.61" y="337.26" width="3.66" height="8.13" fill="#f1f525"/>
<rect x="214.22" y="337.26" width="3.66" height="8.13" fill="#febb2b"/>
<rect x="217.83" y="337.26" width="3.66" height="8.13" fill="#e66c5c"/>
<rect x="221.44" y="337.26" width="10.88" height="8.13" fill="#a51f99"/>
<rect x="232.28" y="337.26" width="10.88" height="8.13" fill="#7801a8"/>
<rect x="243.11" y="337.26" width="18.11" height="8.13" fill="#4e02a2"/>
<rect x="261.17" y="337.26" width="3.66" height="8.13" fill="#7801a8"/>
<rect x="264.78" y="337.26" width="3.66" height="8.13" fill="#4e02a2"/>
<rect x="268.39" y="337.26" width="3.66" height="8.13" fill="#6300a7"/>
<rect x="272.00" y="337.26" width="3.66" height="8.13" fill="#8f0da4"/>
<rect x="275.61" y="337.26" width="3.66" height="8.13" fill="#e66c5c"/>
<rect x="279.22" y="337.26" width="3.66" height="8.13" fill="#f79044"/>
<rect x="282.83" y="337.26" width="10.88" height="8.13" fill="#fca537"/>
<rect x="293.67" y="337.26" width="3.66" height="8.13" fill="#fbd524"/>
<rect x="297.28" y="337.26" width="3.66" height="8.13" fill="#febb2b"/>
<rect x="300.89" y="337.26" width="4.06" height="8.13" fill="#fca537"/>
<rect x="44.10" y="345.34" width="4.06" height="8.13" fill="#fbd524"/>
<rect x="48.11" y="345.34" width="3.66" height="8.13" fill="#ef7e50"/>
<rect x="51.72" y="345.34" width="3.66" height="8.13" fill="#dc5d67"/>
<rect x="55.33" y="345.34" width="3.66" height="8.13" fill="#c43e7f"/>
<rect x="58.94" y="345.34" width="3.66" height="8.13" fill="#b52f8c"/>
<rect x="62.56" y="345.34" width="14.49" height="8.13" fill="#8f0da4"/>
<rect x="77.00" y="345.34" width="7.27" height="8.13" fill="#a51f99"/>
<rect x="84.22" y="345.34" width="3.66" height="8.13" fill="#dc5d67"/>
<rect x="214.22" y="345.34" width="3.66" height="8.13" fill="#fca537"/>
<rect x="217.83" y="345.34" width="3.66" height="8.13" fill="#e66c5c"/>
<rect x="221.44" y="345.34" width="7.27" height="8.13" fill="#b52f8c"/>
<rect x="228.67" y="345.34" width="3.66" height="8.13" fill="#a51f99"/>
<rect x="232.28" y="345.34" width="3.66" height="8.13" fill="#8f0da4"/>
<rect x="235.89" y="345.34" width="3.66" height="8.13" fill="#6300a7"/>
<rect x="239.50" y="345.34" width="3.66" height="8.13" fill="#7801a8"/>
<rect x="243.11" y="345.34" width="21.72" height="8.13" fill="#4e02a2"/>
<rect x="264.78" y="345.34" width="21.72" height="8.13" fill="#38049a"/>
<rect x="297.28" y="345.34" width="3.66" height="8.13" fill="#f1f525"/>
<rect x="300.89" y="345.34" width="4.06" height="8.13" fill="#fbd524"/>
<rect x="44.10" y="353.41" width="14.89" height="8.13" fill="#a51f99"/>
<rect x="58.94" y="353.41" width="3.66" height="8.13" fill="#b52f8c"/>
<rect x="62.56" y="353.41" width="7.27" height="8.13" fill="#a51f99"/>
<rect x="69.78" y="353.41" width="3.66" height="8.13" fill="#b52f8c"/>
<rect x="73.39" y="353.41" width="3.66" height="8.13" fill="#a51f99"/>
<rect x="77.00" y="353.41" width="3.66" height="8.13" fill="#c43e7f"/>
<rect x="98.67" y="353.41" width="3.66" height="8.13" fill="#e66c5c"/>
<rect x="102.28" y="353.41" width="7.27" height="8.13" fill="#a51f99"/>
<rect x="109.50" y="353.41" width="3.66" height="8.13" fill="#7801a8"/>
<rect x="113.11" y="353.41" width="10.88" height="8.13" fill="#38049a"/>
<rect x="123.94" y="353.41" width="10.88" height="8.13" fill="#f1f525"/>
<rect x="264.78" y="353.41" width="3.66" height="8.13" fill="#f1f525"/>
<rect x="268.39" y="353.41" width="3.66" height="8.13" fill="#febb2b"/>
<rect x="272.00" y="353.41" width="10.88" height="8.13" fill="#fca537"/>
<rect x="282.83" y="353.41" width="3.66" height="8.13" fill="#ef7e50"/>
<rect x="286.44" y="353.41" width="7.27" height="8.13" fill="#dc5d67"/>
<rect x="293.67" y="353.41" width="3.66" height="8.13" fill="#c43e7f"/>
<rect x="297.28" y="353.41" width="3.66" height="8.13" fill="#b52f8c"/>
<rect x="300.89" y="353.41" width="4.06" height="8.13" fill="#a51f99"/>
<rect x="44.10" y="361.49" width="14.89" height="8.13" fill="#a51f99"/>
<rect x="58.94" y="361.49" width="7.27" height="8.13" fill="#8f0da4"/>
<rect x="66.17" y="361.49" width="3.66" height="8.13" fill="#a51f99"/>
<rect x="69.78" y="361.49" width="7.27" height="8.13" fill="#8f0da4"/>
<rect x="77.00" y="361.49" width="3.66" height="8.13" fill="#c43e7f"/>
<rect x="87.83" y="361.49" width="3.66" height="8.13" fill="#fbd524"/>
<rect x="91.44" y="361.49" width="3.66" height="8.13" fill="#f79044"/>
<rect x="95.06" y="361.49" width="3.66" height="8.13" fill="#e66c5c"/>
<rect x="228.67" y="361.49" width="3.66" height="8.13" fill="#f79044"/>
<rect x="232.28" y="361.49" width="3.66" height="8.13" fill="#e66c5c"/>
<rect x="235.89" y="361.49" width="7.27" height="8.13" fill="#a51f99"/>
<rect x="243.11" y="361.49" width="18.11" height="8.13" fill="#7801a8"/>
<rect x="261.17" y="361.49" width="18.11" height="8.13" fill="#4e02a2"/>
<rect x="279.22" y="361.49" width="10.88" height="8.13" fill="#6300a7"/>
<rect x="290.06" y="361.49" width="7.27" height="8.13" fill="#7801a8"/>
<rect x="297.28" y="361.49" width="3.66" height="8.13" fill="#8f0da4"/>
<rect x="300.89" y="361.49" width="4.06" height="8.13" fill="#a51f99"/>
<rect x="44.10" y="369.57" width="14.89" height="8.13" fill="#a51f99"/>
<rect x="58.94" y="369.57" width="7.27" height="8.13" fill="#b52f8c"/>
<rect x="66.17" y="369.57" width="3.66" height="8.13" fill="#8f0da4"/>
<rect x="69.78" y="369.57" width="7.27" height="8.13" fill="#b52f8c"/>
<rect x="77.00" y="369.57" width="3.66" height="8.13" fill="#c43e7f"/>
<rect x="91.44" y="369.57" width="3.66" height="8.13" fill="#dc5d67"/>
<rect x="95.06" y="369.57" width="3.66" height="8.13" fill="#e66c5c"/>
<rect x="98.67" y="369.57" width="10.88" height="8.13" fill="#a51f99"/>
<rect x="113.11" y="369.57" width="3.66" height="8.13" fill="#b52f8c"/>
<rect x="116.72" y="369.57" width="3.66" height="8.13" fill="#dc5d67"/>
<rect x="232.28" y="369.57" width="3.66" height="8.13" fill="#fca537"/>
<rect x="235.89" y="369.57" width="3.66" height="8.13" fill="#dc5d67"/>
<rect x="239.50" y="369.57" width="3.66" height="8.13" fill="#d04d73"/>
<rect x="243.11" y="369.57" width="3.66" height="8.13" fill="#a51f99"/>
<rect x="246.72" y="369.57" width="14.49" height="8.13" fill="#7801a8"/>
<rect x="261.17" y="369.57" width="7.27" height="8.13" fill="#4e02a2"/>
<rect x="268.39" y="369.57" width="3.66" height="8.13" fill="#7801a8"/>
<rect x="272.00" y="369.57" width="3.66" height="8.13" fill="#4e02a2"/>
<rect x="275.61" y="369.57" width="21.72" height="8.13" fill="#8f0da4"/>
<rect x="297.28" y="369.57" width="7.67" height="8.13" fill="#a51f99"/>
<rect x="44.10" y="377.65" width="4.06" height="8.13" fill="#7801a8"/>
<rect x="48.11" y="377.65" width="18.11" height="8.13" fill="#a51f99"/>
<rect x="66.17" y="377.65" width="7.27" height="8.13" fill="#8f0da4"/>
<rect x="73.39" y="377.65" width="3.66" height="8.13" fill="#a51f99"/>
<rect x="91.44" y="377.65" width="3.66" height="8.13" fill="#e66c5c"/>
<rect x="95.06" y="377.65" width="3.66" height="8.13" fill="#dc5d67"/>
<rect x="98.67" y="377.65" width="3.66" height="8.13" fill="#c43e7f"/>
<rect x="102.28" y="377.65" width="3.66" height="8.13" fill="#b52f8c"/>
<rect x="105.89" y="377.65" width="3.66" height="8.13" fill="#c43e7f"/>
<rect x="113.11" y="377.65" width="3.66" height="8.13" fill="#fbd524"/>
<rect x="228.67" y="377.65" width="3.66" height="8.13" fill="#febb2b"/>
<rect x="232.28" y="377.65" width="3.66" height="8.13" fill="#f79044"/>
<rect x="235.89" y="377.65" width="7.27" height="8.13" fill="#dc5d67"/>
<rect x="243.11" y="377.65" width="7.27" height="8.13" fill="#a51f99"/>
<rect x="250.33" y="377.65" width="3.66" height="8.13" fill="#7801a8"/>
<rect x="253.94" y="377.65" width="10.88" height="8.13" fill="#4e02a2"/>
<rect x="264.78" y="377.65" width="25.33" height="8.13" fill="#7801a8"/>
<rect x="290.06" y="377.65" width="14.89" height="8.13" fill="#8f0da4"/>
<rect x="44.10" y="385.73" width="4.06" height="8.13" fill="#a51f99"/>
<rect x="48.11" y="385.73" width="3.66" height="8.13" fill="#8f0da4"/>
<rect x="51.72" y="385.73" width="3.66" height="8.13" fill="#a51f99"/>
<rect x="55.33" y="385.73" width="18.11" height="8.13" fill="#8f0da4"/>
<rect x="73.39" y="385.73" width="3.66" height="8.13" fill="#a51f99"/>
<rect x="77.00" y="385.73" width="3.66" height="8.13" fill="#dc5d67"/>
<rect x="84.22" y="385.73" width="3.66" height="8.13" fill="#fca537"/>
<rect x="87.83" y="385.73" width="3.66" height="8.13" fill="#f79044"/>
<rect x="91.44" y="385.73" width="3.66" height="8.13" fill="#ef7e50"/>
<rect x="95.06" y="385.73" width="3.66" height="8.13" fill="#dc5d67"/>
<rect x="98.67" y="385.73" width="3.66" height="8.13" fill="#b52f8c"/>
<rect x="102.28" y="385.73" width="10.88" height="8.13" fill="#fbd524"/>
<rect x="232.28" y="385.73" width="3.66" height="8.13" fill="#fca537"/>
<rect x="235.89" y="385.73" width="3.66" height="8.13" fill="#e66c5c"/>
<rect x="239.50" y="385.73" width="3.66" height="8.13" fill="#c43e7f"/>
<rect x="243.11" y="385.73" width="7.27" height="8.13" fill="#a51f99"/>
<rect x="250.33" y="385.73" width="18.11" height="8.13" fill="#7801a8"/>
<rect x="268.39" y="385.73" width="3.66" height="8.13" fill="#6300a7"/>
<rect x="272.00" y="385.73" width="3.66" height="8.13" fill="#8f0da4"/>
<rect x="275.61" y="385.73" width="7.27" height="8.13" fill="#7801a8"/>
<rect x="282.83" y="385.73" width="22.12" height="8.13" fill="#a51f99"/>
<rect x="44.10" y="393.81" width="11.28" height="8.13" fill="#a51f99"/>
<rect x="55.33" y="393.81" width="3.66" height="8.13" fill="#8f0da4"/>
<rect x="58.94" y="393.81" width="7.27" height="8.13" fill="#a51f99"/>
<rect x="66.17" y="393.81" width="10.88" height="8.13" fill="#8f0da4"/>
<rect x="77.00" y="393.81" width="3.66" height="8.13" fill="#d04d73"/>
<rect x="80.61" y="393.81" width="3.66" height="8.13" fill="#fca537"/>
<rect x="87.83" y="393.81" width="7.27" height="8.13" fill="#fca537"/>
<rect x="95.06" y="393.81" width="3.66" height="8.13" fill="#dc5d67"/>
<rect x="98.67" y="393.81" width="3.66" height="8.13" fill="#b52f8c"/>
<rect x="232.28" y="393.81" width="3.66" height="8.13" fill="#fca537"/>
<rect x="235.89" y="393.81" width="3.66" height="8.13" fill="#e66c5c"/>
<rect x="239.50" y="393.81" width="3.66" height="8.13" fill="#c43e7f"/>
<rect x="243.11" y="393.81" width="7.27" height="8.13" fill="#a51f99"/>
<rect x="250.33" y="393.81" width="7.27" height="8.13" fill="#7801a8"/>
<rect x="257.56" y="393.81" width="10.88" height="8.13" fill="#4e02a2"/>
<rect x="268.39" y="393.81" width="14.49" height="8.13" fill="#7801a8"/>
<rect x="282.83" y="393.81" width="10.88" height="8.13" fill="#8f0da4"/>
<rect x="293.67" y="393.81" width="11.28" height="8.13" fill="#a51f99"/>
<rect x="44.10" y="401.89" width="29.34" height="8.13" fill="#a51f99"/>
<rect x="73.39" y="401.89" width="3.66" height="8.13" fill="#c43e7f"/>
<rect x="77.00" y="401.89" width="3.66" height="8.13" fill="#fbd524"/>
<rect x="87.83" y="401.89" width="3.66" height="8.13" fill="#f1f525"/>
<rect x="91.44" y="401.89" width="3.66" height="8.13" fill="#ef7e50"/>
<rect x="95.06" y="401.89" width="3.66" height="8.13" fill="#dc5d67"/>
<rect x="98.67" y="401.89" width="3.66" height="8.13" fill="#a51f99"/>
<rect x="102.28" y="401.89" width="3.66" height="8.13" fill="#8f0da4"/>
<rect x="105.89" y="401.89" width="3.66" height="8.13" fill="#a51f99"/>
<rect x="109.50" y="401.89" width="3.66" height="8.13" fill="#b52f8c"/>
<rect x="113.11" y="401.89" width="7.27" height="8.13" fill="#f79044"/>
<rect x="120.33" y="401.89" width="3.66" height="8.13" fill="#fbd524"/>
<rect x="232.28" y="401.89" width="3.66" height="8.13" fill="#f79044"/>
<rect x="235.89" y="401.89" width="3.66" height="8.13" fill="#e66c5c"/>
<rect x="239.50" y="401.89" width="3.66" height="8.13" fill="#c43e7f"/>
<rect x="243.11" y="401.89" width="7.27" height="8.13" fill="#a51f99"/>
<rect x="250.33" y="401.89" width="7.27" height="8.13" fill="#7801a8"/>
<rect x="257.56" y="401.89" width="7.27" height="8.13" fill="#6300a7"/>
<rect x="264.78" y="401.89" width="7.27" height="8.13" fill="#7801a8"/>
<rect x="272.00" y="401.89" width="21.72" height="8.13" fill="#8f0da4"/>
<rect x="293.67" y="401.89" width="11.28" height="8.13" fill="#a51f99"/>
<rect x="44.10" y="409.96" width="4.06" height="8.13" fill="#a51f99"/>
<rect x="48.11" y="409.96" width="3.66" height="8.13" fill="#7801a8"/>
<rect x="51.72" y="409.96" width="7.27" height="8.13" fill="#a51f99"/>
<rect x="58.94" y="409.96" width="3.66" height="8.13" fill="#8f0da4"/>
<rect x="62.56" y="409.96" width="14.49" height="8.13" fill="#a51f99"/>
<rect x="77.00" y="409.96" width="3.66" height="8.13" fill="#6300a7"/>
<rect x="84.22" y="409.96" width="7.27" height="8.13" fill="#fca537"/>
<rect x="91.44" y="409.96" width="3.66" height="8.13" fill="#e66c5c"/>
<rect x="95.06" y="409.96" width="3.66" height="8.13" fill="#dc5d67"/>
<rect x="98.67" y="409.96" width="3.66" height="8.13" fill="#d04d73"/>
<rect x="102.28" y="409.96" width="3.66" height="8.13" fill="#c43e7f"/>
<rect x="232.28" y="409.96" width="3.66" height="8.13" fill="#fbd524"/>
<rect x="235.89" y="409.96" width="3.66" height="8.13" fill="#f79044"/>
<rect x="239.50" y="409.96" width="3.66" height="8.13" fill="#d04d73"/>
<rect x="243.11" y="409.96" width="3.66" height="8.13" fill="#b52f8c"/>
<rect x="246.72" y="409.96" width="3.66" height="8.13" fill="#a51f99"/>
<rect x="250.33" y="409.96" width="3.66" height="8.13" fill="#8f0da4"/>
<rect x="253.94" y="409.96" width="7.27" height="8.13" fill="#7801a8"/>
<rect x="261.17" y="409.96" width="3.66" height="8.13" fill="#4e02a2"/>
<rect x="264.78" y="409.96" width="18.11" height="8.13" fill="#7801a8"/>
<rect x="282.83" y="409.96" width="7.27" height="8.13" fill="#8f0da4"/>
<rect x="290.06" y="409.96" width="3.66" height="8.13" fill="#a51f99"/>
<rect x="293.67" y="409.96" width="3.66" height="8.13" fill="#8f0da4"/>
<rect x="297.28" y="409.96" width="7.67" height="8.13" fill="#a51f99"/>
<rect x="44.10" y="418.04" width="22.12" height="8.13" fill="#a51f99"/>
<rect x="66.17" y="418.04" width="3.66" height="8.13" fill="#d04d73"/>
<rect x="69.78" y="418.04" width="7.27" height="8.13" fill="#a51f99"/>
<rect x="77.00" y="418.04" width="3.66" height="8.13" fill="#8f0da4"/>
<rect x="84.22" y="418.04" width="3.66" height="8.13" fill="#febb2b"/>
<rect x="87.83" y="418.04" width="3.66" height="8.13" fill="#f79044"/>
<rect x="95.06" y="418.04" width="3.66" height="8.13" fill="#dc5d67"/>
<rect x="98.67" y="418.04" width="3.66" height="8.13" fill="#d04d73"/>
<rect x="232.28" y="418.04" width="3.66" height="8.13" fill="#f7e425"/>
<rect x="235.89" y="418.04" width="3.66" height="8.13" fill="#fca537"/>
<rect x="239.50" y="418.04" width="3.66" height="8.13" fill="#c43e7f"/>
<rect x="243.11" y="418.04" width="3.66" height="8.13" fill="#a51f99"/>
<rect x="246.72" y="418.04" width="7.27" height="8.13" fill="#8f0da4"/>
<rect x="253.94" y="418.04" width="7.27" height="8.13" fill="#7801a8"/>
<rect x="261.17" y="418.04" width="10.88" height="8.13" fill="#6300a7"/>
<rect x="272.00" y="418.04" width="14.49" height="8.13" fill="#7801a8"/>
<rect x="286.44" y="418.04" width="10.88" height="8.13" fill="#a51f99"/>
<rect x="297.28" y="418.04" width="3.66" height="8.13" fill="#b52f8c"/>
<rect x="300.89" y="418.04" width="4.06" height="8.13" fill="#a51f99"/>
<rect x="44.10" y="426.12" width="22.12" height="8.13" fill="#a51f99"/>
<rect x="66.17" y="426.12" width="3.66" height="8.13" fill="#b52f8c"/>
<rect x="69.78" y="426.12" width="3.66" height="8.13" fill="#dc5d67"/>
<rect x="73.39" y="426.12" width="3.66" height="8.13" fill="#c43e7f"/>
<rect x="84.22" y="426.12" width="3.66" height="8.13" fill="#fbd524"/>
<rect x="87.83" y="426.12" width="3.66" height="8.13" fill="#febb2b"/>
<rect x="91.44" y="426.12" width="3.66" height="8.13" fill="#fbd524"/>
<rect x="95.06" y="426.12" width="7.27" height="8.13" fill="#dc5d67"/>
<rect x="102.28" y="426.12" width="3.66" height="8.13" fill="#d04d73"/>
<rect x="232.28" y="426.12" width="3.66" height="8.13" fill="#fca537"/>
<rect x="235.89" y="426.12" width="3.66" height="8.13" fill="#ef7e50"/>
<rect x="239.50" y="426.12" width="3.66" height="8.13" fill="#c43e7f"/>
<rect x="243.11" y="426.12" width="7.27" height="8.13" fill="#a51f99"/>
<rect x="250.33" y="426.12" width="10.88" height="8.13" fill="#7801a8"/>
<rect x="261.17" y="426.12" width="10.88" height="8.13" fill="#6300a7"/>
<rect x="272.00" y="426.12" width="14.49" height="8.13" fill="#7801a8"/>
<rect x="286.44" y="426.12" width="7.27" height="8.13" fill="#8f0da4"/>
<rect x="293.67" y="426.12" width="3.66" height="8.13" fill="#a51f99"/>
<rect x="297.28" y="426.12" width="3.66" height="8.13" fill="#b52f8c"/>
<rect x="300.89" y="426.12" width="4.06" height="8.13" fill="#a51f99"/>
<rect x="44.10" y="434.20" width="7.67" height="8.13" fill="#4e02a2"/>
<rect x="51.72" y="434.20" width="3.66" height="8.13" fill="#38049a"/>
<rect x="55.33" y="434.20" width="7.27" height="8.13" fill="#4e02a2"/>
<rect x="62.56" y="434.20" width="14.49" height="8.13" fill="#38049a"/>
<rect x="77.00" y="434.20" width="7.27" height="8.13" fill="#6300a7"/>
<rect x="84.22" y="434.20" width="3.66" height="8.13" fill="#7801a8"/>
<rect x="87.83" y="434.20" width="3.66" height="8.13" fill="#dc5d67"/>
<rect x="91.44" y="434.20" width="3.66" height="8.13" fill="#d04d73"/>
<rect x="95.06" y="434.20" width="3.66" height="8.13" fill="#a51f99"/>
<rect x="98.67" y="434.20" width="3.66" height="8.13" fill="#8f0da4"/>
<rect x="102.28" y="434.20" width="7.27" height="8.13" fill="#7801a8"/>
<rect x="109.50" y="434.20" width="7.27" height="8.13" fill="#4e02a2"/>
<rect x="116.72" y="434.20" width="3.66" height="8.13" fill="#6300a7"/>
<rect x="120.33" y="434.20" width="3.66" height="8.13" fill="#7801a8"/>
<rect x="123.94" y="434.20" width="3.66" height="8.13" fill="#a51f99"/>
<rect x="127.56" y="434.20" width="3.66" height="8.13" fill="#d04d73"/>
<rect x="131.17" y="434.20" width="3.66" height="8.13" fill="#dc5d67"/>
<rect x="134.78" y="434.20" width="3.66" height="8.13" fill="#ef7e50"/>
<rect x="138.39" y="434.20" width="3.66" height="8.13" fill="#f79044"/>
<rect x="142.00" y="434.20" width="3.66" height="8.13" fill="#f7e425"/>
<rect x="199.78" y="434.20" width="3.66" height="8.13" fill="#fbd524"/>
<rect x="203.39" y="434.20" width="3.66" height="8.13" fill="#fca537"/>
<rect x="207.00" y="434.20" width="3.66" height="8.13" fill="#ef7e50"/>
<rect x="210.61" y="434.20" width="3.66" height="8.13" fill="#dc5d67"/>
<rect x="214.22" y="434.20" width="3.66" height="8.13" fill="#d04d73"/>
<rect x="217.83" y="434.20" width="10.88" height="8.13" fill="#7801a8"/>
<rect x="228.67" y="434.20" width="32.55" height="8.13" fill="#4e02a2"/>
<rect x="261.17" y="434.20" width="3.66" height="8.13" fill="#38049a"/>
<rect x="264.78" y="434.20" width="14.49" height="8.13" fill="#4e02a2"/>
<rect x="279.22" y="434.20" width="3.66" height="8.13" fill="#38049a"/>
<rect x="282.83" y="434.20" width="22.12" height="8.13" fill="#4e02a2"/>
<rect x="44.10" y="442.28" width="4.06" height="8.13" fill="#4e02a2"/>
<rect x="48.11" y="442.28" width="14.49" height="8.13" fill="#38049a"/>
<rect x="62.56" y="442.28" width="3.66" height="8.13" fill="#4e02a2"/>
<rect x="66.17" y="442.28" width="7.27" height="8.13" fill="#38049a"/>
<rect x="73.39" y="442.28" width="7.27" height="8.13" fill="#4e02a2"/>
<rect x="80.61" y="442.28" width="3.66" height="8.13" fill="#6300a7"/>
<rect x="84.22" y="442.28" width="3.66" height="8.13" fill="#7801a8"/>
<rect x="87.83" y="442.28" width="3.66" height="8.13" fill="#dc5d67"/>
<rect x="91.44" y="442.28" width="3.66" height="8.13" fill="#c43e7f"/>
<rect x="95.06" y="442.28" width="3.66" height="8.13" fill="#a51f99"/>
<rect x="98.67" y="442.28" width="10.88" height="8.13" fill="#7801a8"/>
<rect x="109.50" y="442.28" width="7.27" height="8.13" fill="#4e02a2"/>
<rect x="116.72" y="442.28" width="3.66" height="8.13" fill="#7801a8"/>
<rect x="120.33" y="442.28" width="3.66" height="8.13" fill="#8f0da4"/>
<rect x="123.94" y="442.28" width="3.66" height="8.13" fill="#b52f8c"/>
<rect x="127.56" y="442.28" width="7.27" height="8.13" fill="#dc5d67"/>
<rect x="134.78" y="442.28" width="3.66" height="8.13" fill="#f79044"/>
<rect x="138.39" y="442.28" width="7.27" height="8.13" fill="#fbd524"/>
<rect x="207.00" y="442.28" width="3.66" height="8.13" fill="#fca537"/>
<rect x="210.61" y="442.28" width="3.66" height="8.13" fill="#ef7e50"/>
<rect x="214.22" y="442.28" width="3.66" height="8.13" fill="#dc5d67"/>
<rect x="217.83" y="442.28" width="3.66" height="8.13" fill="#c43e7f"/>
<rect x="221.44" y="442.28" width="3.66" height="8.13" fill="#a51f99"/>
<rect x="225.06" y="442.28" width="10.88" height="8.13" fill="#7801a8"/>
<rect x="235.89" y="442.28" width="10.88" height="8.13" fill="#4e02a2"/>
<rect x="246.72" y="442.28" width="7.27" height="8.13" fill="#38049a"/>
<rect x="253.94" y="442.28" width="3.66" height="8.13" fill="#20068f"/>
<rect x="257.56" y="442.28" width="14.49" height="8.13" fill="#38049a"/>
<rect x="272.00" y="442.28" width="3.66" height="8.13" fill="#20068f"/>
<rect x="275.61" y="442.28" width="14.49" height="8.13" fill="#38049a"/>
<rect x="290.06" y="442.28" width="3.66" height="8.13" fill="#4e02a2"/>
<rect x="293.67" y="442.28" width="11.28" height="8.13" fill="#38049a"/>
<rect x="44.10" y="450.36" width="4.06" height="8.13" fill="#4e02a2"/>
<rect x="48.11" y="450.36" width="7.27" height="8.13" fill="#38049a"/>
<rect x="55.33" y="450.36" width="3.66" height="8.13" fill="#4e02a2"/>
<rect x="58.94" y="450.36" width="3.66" height="8.13" fill="#38049a"/>
<rect x="62.56" y="450.36" width="3.66" height="8.13" fill="#4e02a2"/>
<rect x="66.17" y="450.36" width="7.27" height="8.13" fill="#20068f"/>
<rect x="73.39" y="450.36" width="3.66" height="8.13" fill="#38049a"/>
<rect x="77.00" y="450.36" width="3.66" height="8.13" fill="#4e02a2"/>
<rect x="80.61" y="450.36" width="3.66" height="8.13" fill="#6300a7"/>
<rect x="84.22" y="450.36" width="3.66" height="8.13" fill="#7801a8"/>
<rect x="87.83" y="450.36" width="3.66" height="8.13" fill="#dc5d67"/>
<rect x="91.44" y="450.36" width="3.66" height="8.13" fill="#c43e7f"/>
<rect x="95.06" y="450.36" width="3.66" height="8.13" fill="#a51f99"/>
<rect x="98.67" y="450.36" width="3.66" height="8.13" fill="#8f0da4"/>
<rect x="102.28" y="450.36" width="7.27" height="8.13" fill="#7801a8"/>
<rect x="109.50" y="450.36" width="7.27" height="8.13" fill="#4e02a2"/>
<rect x="116.72" y="450.36" width="3.66" height="8.13" fill="#7801a8"/>
<rect x="120.33" y="450.36" width="3.66" height="8.13" fill="#8f0da4"/>
<rect x="123.94" y="450.36" width="3.66" height="8.13" fill="#b52f8c"/>
<rect x="127.56" y="450.36" width="3.66" height="8.13" fill="#dc5d67"/>
<rect x="131.17" y="450.36" width="3.66" height="8.13" fill="#e66c5c"/>
<rect x="134.78" y="450.36" width="3.66" height="8.13" fill="#fca537"/>
<rect x="138.39" y="450.36" width="3.66" height="8.13" fill="#fbd524"/>
<rect x="203.39" y="450.36" width="3.66" height="8.13" fill="#fbd524"/>
<rect x="207.00" y="450.36" width="3.66" height="8.13" fill="#fca537"/>
<rect x="210.61" y="450.36" width="3.66" height="8.13" fill="#ef7e50"/>
<rect x="214.22" y="450.36" width="3.66" height="8.13" fill="#dc5d67"/>
<rect x="217.83" y="450.36" width="3.66" height="8.13" fill="#c43e7f"/>
<rect x="221.44" y="450.36" width="3.66" height="8.13" fill="#a51f99"/>
<rect x="225.06" y="450.36" width="10.88" height="8.13" fill="#7801a8"/>
<rect x="235.89" y="450.36" width="7.27" height="8.13" fill="#4e02a2"/>
<rect x="243.11" y="450.36" width="7.27" height="8.13" fill="#38049a"/>
<rect x="250.33" y="450.36" width="3.66" height="8.13" fill="#20068f"/>
<rect x="253.94" y="450.36" width="10.88" height="8.13" fill="#38049a"/>
<rect x="264.78" y="450.36" width="3.66" height="8.13" fill="#20068f"/>
<rect x="268.39" y="450.36" width="14.49" height="8.13" fill="#38049a"/>
<rect x="282.83" y="450.36" width="3.66" height="8.13" fill="#20068f"/>
<rect x="286.44" y="450.36" width="14.49" height="8.13" fill="#38049a"/>
<rect x="300.89" y="450.36" width="4.06" height="8.13" fill="#4e02a2"/>
<rect x="44.10" y="458.44" width="4.06" height="8.13" fill="#4e02a2"/>
<rect x="48.11" y="458.44" width="10.88" height="8.13" fill="#38049a"/>
<rect x="58.94" y="458.44" width="3.66" height="8.13" fill="#4e02a2"/>
<rect x="62.56" y="458.44" width="14.49" height="8.13" fill="#38049a"/>
<rect x="77.00" y="458.44" width="3.66" height="8.13" fill="#4e02a2"/>
<rect x="80.61" y="458.44" width="3.66" height="8.13" fill="#7801a8"/>
<rect x="84.22" y="458.44" width="3.66" height="8.13" fill="#d04d73"/>
<rect x="87.83" y="458.44" width="3.66" height="8.13" fill="#dc5d67"/>
<rect x="91.44" y="458.44" width="3.66" height="8.13" fill="#c43e7f"/>
<rect x="95.06" y="458.44" width="3.66" height="8.13" fill="#a51f99"/>
<rect x="98.67" y="458.44" width="3.66" height="8.13" fill="#8f0da4"/>
<rect x="102.28" y="458.44" width="7.27" height="8.13" fill="#7801a8"/>
<rect x="109.50" y="458.44" width="10.88" height="8.13" fill="#4e02a2"/>
<rect x="120.33" y="458.44" width="3.66" height="8.13" fill="#7801a8"/>
<rect x="123.94" y="458.44" width="3.66" height="8.13" fill="#a51f99"/>
<rect x="127.56" y="458.44" width="3.66" height="8.13" fill="#c43e7f"/>
<rect x="131.17" y="458.44" width="3.66" height="8.13" fill="#d04d73"/>
<rect x="134.78" y="458.44" width="3.66" height="8.13" fill="#ef7e50"/>
<rect x="138.39" y="458.44" width="3.66" height="8.13" fill="#febb2b"/>
<rect x="199.78" y="458.44" width="7.27" height="8.13" fill="#f1f525"/>
<rect x="207.00" y="458.44" width="3.66" height="8.13" fill="#fca537"/>
<rect x="210.61" y="458.44" width="3.66" height="8.13" fill="#ef7e50"/>
<rect x="214.22" y="458.44" width="3.66" height="8.13" fill="#d04d73"/>
<rect x="217.83" y="458.44" width="14.49" height="8.13" fill="#7801a8"/>
<rect x="232.28" y="458.44" width="3.66" height="8.13" fill="#6300a7"/>
<rect x="235.89" y="458.44" width="10.88" height="8.13" fill="#4e02a2"/>
<rect x="246.72" y="458.44" width="14.49" height="8.13" fill="#38049a"/>
<rect x="261.17" y="458.44" width="3.66" height="8.13" fill="#20068f"/>
<rect x="264.78" y="458.44" width="21.72" height="8.13" fill="#38049a"/>
<rect x="286.44" y="458.44" width="3.66" height="8.13" fill="#20068f"/>
<rect x="290.06" y="458.44" width="14.89" height="8.13" fill="#38049a"/>
<rect x="44.10" y="466.51" width="4.06" height="8.13" fill="#4e02a2"/>
<rect x="48.11" y="466.51" width="7.27" height="8.13" fill="#38049a"/>
<rect x="55.33" y="466.51" width="7.27" height="8.13" fill="#4e02a2"/>
<rect x="62.56" y="466.51" width="10.88" height="8.13" fill="#38049a"/>
<rect x="73.39" y="466.51" width="3.66" height="8.13" fill="#4e02a2"/>
<rect x="77.00" y="466.51" width="3.66" height="8.13" fill="#6300a7"/>
<rect x="80.61" y="466.51" width="3.66" height="8.13" fill="#7801a8"/>
<rect x="84.22" y="466.51" width="7.27" height="8.13" fill="#dc5d67"/>
<rect x="91.44" y="466.51" width="3.66" height="8.13" fill="#c43e7f"/>
<rect x="95.06" y="466.51" width="3.66" height="8.13" fill="#a51f99"/>
<rect x="98.67" y="466.51" width="3.66" height="8.13" fill="#8f0da4"/>
<rect x="102.28" y="466.51" width="7.27" height="8.13" fill="#7801a8"/>
<rect x="109.50" y="466.51" width="3.66" height="8.13" fill="#4e02a2"/>
<rect x="113.11" y="466.51" width="3.66" height="8.13" fill="#6300a7"/>
<rect x="116.72" y="466.51" width="3.66" height="8.13" fill="#7801a8"/>
<rect x="120.33" y="466.51" width="3.66" height="8.13" fill="#8f0da4"/>
<rect x="123.94" y="466.51" width="3.66" height="8.13" fill="#c43e7f"/>
<rect x="127.56" y="466.51" width="3.66" height="8.13" fill="#dc5d67"/>
<rect x="131.17" y="466.51" width="3.66" height="8.13" fill="#ef7e50"/>
<rect x="134.78" y="466.51" width="3.66" height="8.13" fill="#fca537"/>
<rect x="207.00" y="466.51" width="3.66" height="8.13" fill="#fbd524"/>
<rect x="210.61" y="466.51" width="3.66" height="8.13" fill="#ef7e50"/>
<rect x="214.22" y="466.51" width="3.66" height="8.13" fill="#dc5d67"/>
<rect x="217.83" y="466.51" width="3.66" height="8.13" fill="#c43e7f"/>
<rect x="221.44" y="466.51" width="3.66" height="8.13" fill="#8f0da4"/>
<rect x="225.06" y="466.51" width="10.88" height="8.13" fill="#7801a8"/>
<rect x="235.89" y="466.51" width="7.27" height="8.13" fill="#4e02a2"/>
<rect x="243.11" y="466.51" width="10.88" height="8.13" fill="#38049a"/>
<rect x="253.94" y="466.51" width="3.66" height="8.13" fill="#20068f"/>
<rect x="257.56" y="466.51" width="14.49" height="8.13" fill="#38049a"/>
<rect x="272.00" y="466.51" width="3.66" height="8.13" fill="#20068f"/>
<rect x="275.61" y="466.51" width="21.72" height="8.13" fill="#38049a"/>
<rect x="297.28" y="466.51" width="3.66" height="8.13" fill="#4e02a2"/>
<rect x="300.89" y="466.51" width="4.06" height="8.13" fill="#38049a"/>
<rect x="44.10" y="474.59" width="4.06" height="8.13" fill="#4e02a2"/>
<rect x="48.11" y="474.59" width="3.66" height="8.13" fill="#38049a"/>
<rect x="51.72" y="474.59" width="7.27" height="8.13" fill="#4e02a2"/>
<rect x="58.94" y="474.59" width="14.49" height="8.13" fill="#38049a"/>
<rect x="73.39" y="474.59" width="3.66" height="8.13" fill="#4e02a2"/>
<rect x="77.00" y="474.59" width="3.66" height="8.13" fill="#6300a7"/>
<rect x="80.61" y="474.59" width="3.66" height="8.13" fill="#8f0da4"/>
<rect x="84.22" y="474.59" width="7.27" height="8.13" fill="#dc5d67"/>
<rect x="91.44" y="474.59" width="3.66" height="8.13" fill="#c43e7f"/>
<rect x="95.06" y="474.59" width="7.27" height="8.13" fill="#a51f99"/>
<rect x="102.28" y="474.59" width="7.27" height="8.13" fill="#7801a8"/>
<rect x="109.50" y="474.59" width="3.66" height="8.13" fill="#4e02a2"/>
<rect x="113.11" y="474.59" width="3.66" height="8.13" fill="#6300a7"/>
<rect x="116.72" y="474.59" width="3.66" height="8.13" fill="#7801a8"/>
<rect x="120.33" y="474.59" width="3.66" height="8.13" fill="#8f0da4"/>
<rect x="123.94" y="474.59" width="3.66" height="8.13" fill="#dc5d67"/>
<rect x="127.56" y="474.59" width="3.66" height="8.13" fill="#e66c5c"/>
<rect x="131.17" y="474.59" width="3.66" height="8.13" fill="#ef7e50"/>
<rect x="203.39" y="474.59" width="3.66" height="8.13" fill="#fbd524"/>
<rect x="207.00" y="474.59" width="3.66" height="8.13" fill="#fca537"/>
<rect x="210.61" y="474.59" width="3.66" height="8.13" fill="#ef7e50"/>
<rect x="214.22" y="474.59" width="3.66" height="8.13" fill="#dc5d67"/>
<rect x="217.83" y="474.59" width="3.66" height="8.13" fill="#c43e7f"/>
<rect x="221.44" y="474.59" width="3.66" height="8.13" fill="#8f0da4"/>
<rect x="225.06" y="474.59" width="7.27" height="8.13" fill="#7801a8"/>
<rect x="232.28" y="474.59" width="3.66" height="8.13" fill="#6300a7"/>
<rect x="235.89" y="474.59" width="10.88" height="8.13" fill="#4e02a2"/>
<rect x="246.72" y="474.59" width="18.11" height="8.13" fill="#38049a"/>
<rect x="264.78" y="474.59" width="3.66" height="8.13" fill="#20068f"/>
<rect x="268.39" y="474.59" width="14.49" height="8.13" fill="#38049a"/>
<rect x="282.83" y="474.59" width="3.66" height="8.13" fill="#20068f"/>
<rect x="286.44" y="474.59" width="18.51" height="8.13" fill="#38049a"/>
<rect x="44.10" y="482.67" width="4.06" height="8.13" fill="#4e02a2"/>
<rect x="48.11" y="482.67" width="14.49" height="8.13" fill="#38049a"/>
<rect x="62.56" y="482.67" width="14.49" height="8.13" fill="#4e02a2"/>
<rect x="77.00" y="482.67" width="3.66" height="8.13" fill="#7801a8"/>
<rect x="80.61" y="482.67" width="3.66" height="8.13" fill="#8f0da4"/>
<rect x="84.22" y="482.67" width="7.27" height="8.13" fill="#dc5d67"/>
<rect x="91.44" y="482.67" width="3.66" height="8.13" fill="#c43e7f"/>
<rect x="95.06" y="482.67" width="7.27" height="8.13" fill="#a51f99"/>
<rect x="102.28" y="482.67" width="7.27" height="8.13" fill="#7801a8"/>
<rect x="109.50" y="482.67" width="7.27" height="8.13" fill="#4e02a2"/>
<rect x="116.72" y="482.67" width="3.66" height="8.13" fill="#6300a7"/>
<rect x="120.33" y="482.67" width="3.66" height="8.13" fill="#7801a8"/>
<rect x="123.94" y="482.67" width="3.66" height="8.13" fill="#8f0da4"/>
<rect x="127.56" y="482.67" width="3.66" height="8.13" fill="#b52f8c"/>
<rect x="131.17" y="482.67" width="3.66" height="8.13" fill="#dc5d67"/>
<rect x="134.78" y="482.67" width="3.66" height="8.13" fill="#fca537"/>
<rect x="138.39" y="482.67" width="3.66" height="8.13" fill="#febb2b"/>
<rect x="199.78" y="482.67" width="3.66" height="8.13" fill="#fbd524"/>
<rect x="203.39" y="482.67" width="7.27" height="8.13" fill="#fca537"/>
<rect x="210.61" y="482.67" width="3.66" height="8.13" fill="#ef7e50"/>
<rect x="214.22" y="482.67" width="3.66" height="8.13" fill="#dc5d67"/>
<rect x="217.83" y="482.67" width="3.66" height="8.13" fill="#c43e7f"/>
<rect x="221.44" y="482.67" width="3.66" height="8.13" fill="#a51f99"/>
<rect x="225.06" y="482.67" width="3.66" height="8.13" fill="#8f0da4"/>
<rect x="228.67" y="482.67" width="10.88" height="8.13" fill="#7801a8"/>
<rect x="239.50" y="482.67" width="7.27" height="8.13" fill="#4e02a2"/>
<rect x="246.72" y="482.67" width="14.49" height="8.13" fill="#38049a"/>
<rect x="261.17" y="482.67" width="3.66" height="8.13" fill="#4e02a2"/>
<rect x="264.78" y="482.67" width="14.49" height="8.13" fill="#38049a"/>
<rect x="279.22" y="482.67" width="3.66" height="8.13" fill="#4e02a2"/>
<rect x="282.83" y="482.67" width="18.11" height="8.13" fill="#38049a"/>
<rect x="300.89" y="482.67" width="4.06" height="8.13" fill="#4e02a2"/>
<rect x="44.10" y="490.75" width="18.51" height="8.13" fill="#4e02a2"/>
<rect x="62.56" y="490.75" width="3.66" height="8.13" fill="#6300a7"/>
<rect x="66.17" y="490.75" width="14.49" height="8.13" fill="#7801a8"/>
<rect x="80.61" y="490.75" width="3.66" height="8.13" fill="#a51f99"/>
<rect x="84.22" y="490.75" width="7.27" height="8.13" fill="#dc5d67"/>
<rect x="91.44" y="490.75" width="3.66" height="8.13" fill="#c43e7f"/>
<rect x="95.06" y="490.75" width="3.66" height="8.13" fill="#b52f8c"/>
<rect x="98.67" y="490.75" width="3.66" height="8.13" fill="#a51f99"/>
<rect x="102.28" y="490.75" width="3.66" height="8.13" fill="#8f0da4"/>
<rect x="105.89" y="490.75" width="10.88" height="8.13" fill="#7801a8"/>
<rect x="116.72" y="490.75" width="3.66" height="8.13" fill="#8f0da4"/>
<rect x="120.33" y="490.75" width="3.66" height="8.13" fill="#b52f8c"/>
<rect x="123.94" y="490.75" width="3.66" height="8.13" fill="#dc5d67"/>
<rect x="127.56" y="490.75" width="3.66" height="8.13" fill="#e66c5c"/>
<rect x="131.17" y="490.75" width="3.66" height="8.13" fill="#f79044"/>
<rect x="134.78" y="490.75" width="3.66" height="8.13" fill="#fca537"/>
<rect x="207.00" y="490.75" width="3.66" height="8.13" fill="#fbd524"/>
<rect x="210.61" y="490.75" width="3.66" height="8.13" fill="#fca537"/>
<rect x="214.22" y="490.75" width="3.66" height="8.13" fill="#ef7e50"/>
<rect x="217.83" y="490.75" width="3.66" height="8.13" fill="#dc5d67"/>
<rect x="221.44" y="490.75" width="3.66" height="8.13" fill="#c43e7f"/>
<rect x="225.06" y="490.75" width="3.66" height="8.13" fill="#a51f99"/>
<rect x="228.67" y="490.75" width="10.88" height="8.13" fill="#7801a8"/>
<rect x="239.50" y="490.75" width="7.27" height="8.13" fill="#6300a7"/>
<rect x="246.72" y="490.75" width="58.23" height="8.13" fill="#4e02a2"/>
<rect x="44.10" y="498.83" width="18.51" height="8.13" fill="#7801a8"/>
<rect x="62.56" y="498.83" width="7.27" height="8.13" fill="#8f0da4"/>
<rect x="69.78" y="498.83" width="3.66" height="8.13" fill="#a51f99"/>
<rect x="73.39" y="498.83" width="3.66" height="8.13" fill="#8f0da4"/>
<rect x="77.00" y="498.83" width="3.66" height="8.13" fill="#f79044"/>
<rect x="80.61" y="498.83" width="3.66" height="8.13" fill="#ef7e50"/>
<rect x="84.22" y="498.83" width="7.27" height="8.13" fill="#dc5d67"/>
<rect x="91.44" y="498.83" width="3.66" height="8.13" fill="#d04d73"/>
<rect x="95.06" y="498.83" width="3.66" height="8.13" fill="#c43e7f"/>
<rect x="98.67" y="498.83" width="3.66" height="8.13" fill="#b52f8c"/>
<rect x="102.28" y="498.83" width="7.27" height="8.13" fill="#a51f99"/>
<rect x="109.50" y="498.83" width="3.66" height="8.13" fill="#8f0da4"/>
<rect x="113.11" y="498.83" width="3.66" height="8.13" fill="#d04d73"/>
<rect x="116.72" y="498.83" width="3.66" height="8.13" fill="#dc5d67"/>
<rect x="120.33" y="498.83" width="3.66" height="8.13" fill="#ef7e50"/>
<rect x="123.94" y="498.83" width="3.66" height="8.13" fill="#fbd524"/>
<rect x="127.56" y="498.83" width="3.66" height="8.13" fill="#f1f525"/>
<rect x="214.22" y="498.83" width="3.66" height="8.13" fill="#fbd524"/>
<rect x="217.83" y="498.83" width="3.66" height="8.13" fill="#fca537"/>
<rect x="221.44" y="498.83" width="3.66" height="8.13" fill="#ef7e50"/>
<rect x="225.06" y="498.83" width="3.66" height="8.13" fill="#dc5d67"/>
<rect x="228.67" y="498.83" width="3.66" height="8.13" fill="#c43e7f"/>
<rect x="232.28" y="498.83" width="7.27" height="8.13" fill="#a51f99"/>
<rect x="239.50" y="498.83" width="3.66" height="8.13" fill="#7801a8"/>
<rect x="243.11" y="498.83" width="61.84" height="8.13" fill="#6300a7"/>
<rect x="44.10" y="506.91" width="4.06" height="8.13" fill="#8f0da4"/>
<rect x="48.11" y="506.91" width="3.66" height="8.13" fill="#7801a8"/>
<rect x="51.72" y="506.91" width="10.88" height="8.13" fill="#a51f99"/>
<rect x="62.56" y="506.91" width="10.88" height="8.13" fill="#c43e7f"/>
<rect x="73.39" y="506.91" width="3.66" height="8.13" fill="#fbd524"/>
<rect x="77.00" y="506.91" width="14.49" height="8.13" fill="#fca537"/>
<rect x="91.44" y="506.91" width="3.66" height="8.13" fill="#ef7e50"/>
<rect x="95.06" y="506.91" width="3.66" height="8.13" fill="#e66c5c"/>
<rect x="98.67" y="506.91" width="3.66" height="8.13" fill="#c43e7f"/>
<rect x="102.28" y="506.91" width="3.66" height="8.13" fill="#d04d73"/>
<rect x="105.89" y="506.91" width="3.66" height="8.13" fill="#ef7e50"/>
<rect x="109.50" y="506.91" width="3.66" height="8.13" fill="#fbd524"/>
<rect x="221.44" y="506.91" width="3.66" height="8.13" fill="#fbd524"/>
<rect x="225.06" y="506.91" width="3.66" height="8.13" fill="#f79044"/>
<rect x="228.67" y="506.91" width="3.66" height="8.13" fill="#ef7e50"/>
<rect x="232.28" y="506.91" width="3.66" height="8.13" fill="#dc5d67"/>
<rect x="235.89" y="506.91" width="7.27" height="8.13" fill="#c43e7f"/>
<rect x="243.11" y="506.91" width="3.66" height="8.13" fill="#b52f8c"/>
<rect x="246.72" y="506.91" width="7.27" height="8.13" fill="#a51f99"/>
<rect x="253.94" y="506.91" width="10.88" height="8.13" fill="#8f0da4"/>
<rect x="264.78" y="506.91" width="3.66" height="8.13" fill="#7801a8"/>
<rect x="268.39" y="506.91" width="7.27" height="8.13" fill="#8f0da4"/>
<rect x="275.61" y="506.91" width="14.49" height="8.13" fill="#7801a8"/>
<rect x="290.06" y="506.91" width="3.66" height="8.13" fill="#8f0da4"/>
<rect x="293.67" y="506.91" width="11.28" height="8.13" fill="#a51f99"/>
<rect x="44.10" y="514.99" width="7.67" height="8.13" fill="#c43e7f"/>
<rect x="51.72" y="514.99" width="3.66" height="8.13" fill="#d04d73"/>
<rect x="55.33" y="514.99" width="3.66" height="8.13" fill="#c43e7f"/>
<rect x="58.94" y="514.99" width="7.27" height="8.13" fill="#dc5d67"/>
<rect x="66.17" y="514.99" width="7.27" height="8.13" fill="#fca537"/>
<rect x="77.00" y="514.99" width="7.27" height="8.13" fill="#f1f525"/>
<rect x="84.22" y="514.99" width="3.66" height="8.13" fill="#febb2b"/>
<rect x="87.83" y="514.99" width="3.66" height="8.13" fill="#fbd524"/>
<rect x="91.44" y="514.99" width="10.88" height="8.13" fill="#fca537"/>
<rect x="102.28" y="514.99" width="3.66" height="8.13" fill="#fbd524"/>
<rect x="105.89" y="514.99" width="3.66" height="8.13" fill="#f7e425"/>
<rect x="232.28" y="514.99" width="3.66" height="8.13" fill="#fbd524"/>
<rect x="235.89" y="514.99" width="3.66" height="8.13" fill="#f79044"/>
<rect x="239.50" y="514.99" width="3.66" height="8.13" fill="#e66c5c"/>
<rect x="243.11" y="514.99" width="3.66" height="8.13" fill="#dc5d67"/>
<rect x="246.72" y="514.99" width="3.66" height="8.13" fill="#c43e7f"/>
<rect x="250.33" y="514.99" width="3.66" height="8.13" fill="#b52f8c"/>
<rect x="253.94" y="514.99" width="25.33" height="8.13" fill="#a51f99"/>
<rect x="279.22" y="514.99" width="3.66" height="8.13" fill="#b52f8c"/>
<rect x="282.83" y="514.99" width="3.66" height="8.13" fill="#a51f99"/>
<rect x="286.44" y="514.99" width="10.88" height="8.13" fill="#b52f8c"/>
<rect x="297.28" y="514.99" width="7.67" height="8.13" fill="#c43e7f"/>
<rect x="44.10" y="523.06" width="4.06" height="8.13" fill="#c43e7f"/>
<rect x="48.11" y="523.06" width="3.66" height="8.13" fill="#d04d73"/>
<rect x="51.72" y="523.06" width="7.27" height="8.13" fill="#e66c5c"/>
<rect x="58.94" y="523.06" width="7.27" height="8.13" fill="#ef7e50"/>
<rect x="87.83" y="523.06" width="3.66" height="8.13" fill="#f1f525"/>
<rect x="95.06" y="523.06" width="3.66" height="8.13" fill="#fbd524"/>
<rect x="235.89" y="523.06" width="3.66" height="8.13" fill="#f1f525"/>
<rect x="239.50" y="523.06" width="3.66" height="8.13" fill="#febb2b"/>
<rect x="243.11" y="523.06" width="3.66" height="8.13" fill="#fca537"/>
<rect x="246.72" y="523.06" width="7.27" height="8.13" fill="#dc5d67"/>
<rect x="253.94" y="523.06" width="28.94" height="8.13" fill="#c43e7f"/>
<rect x="282.83" y="523.06" width="22.12" height="8.13" fill="#d04d73"/>
<rect x="44.10" y="531.14" width="4.06" height="8.13" fill="#f79044"/>
<rect x="48.11" y="531.14" width="3.66" height="8.13" fill="#fca537"/>
<rect x="51.72" y="531.14" width="3.66" height="8.13" fill="#fbd524"/>
<rect x="253.94" y="531.14" width="3.66" height="8.13" fill="#fbd524"/>
<rect x="257.56" y="531.14" width="3.66" height="8.13" fill="#fca537"/>
<rect x="261.17" y="531.14" width="3.66" height="8.13" fill="#f79044"/>
<rect x="264.78" y="531.14" width="3.66" height="8.13" fill="#ef7e50"/>
<rect x="268.39" y="531.14" width="7.27" height="8.13" fill="#f79044"/>
<rect x="275.61" y="531.14" width="3.66" height="8.13" fill="#ef7e50"/>
<rect x="279.22" y="531.14" width="3.66" height="8.13" fill="#f79044"/>
<rect x="282.83" y="531.14" width="3.66" height="8.13" fill="#ef7e50"/>
<rect x="286.44" y="531.14" width="3.66" height="8.13" fill="#fca537"/>
<rect x="290.06" y="531.14" width="3.66" height="8.13" fill="#f79044"/>
<rect x="293.67" y="531.14" width="3.66" height="8.13" fill="#ef7e50"/>
<rect x="297.28" y="531.14" width="3.66" height="8.13" fill="#f79044"/>
<rect x="300.89" y="531.14" width="4.06" height="8.13" fill="#ef7e50"/>
<rect x="268.39" y="539.22" width="3.66" height="8.53" fill="#f1f525"/>
<rect x="272.00" y="539.22" width="14.49" height="8.53" fill="#fbd524"/>
<rect x="286.44" y="539.22" width="3.66" height="8.53" fill="#f7e425"/>
<rect x="290.06" y="539.22" width="3.66" height="8.53" fill="#fbd524"/>
<rect x="293.67" y="539.22" width="3.66" height="8.53" fill="#f7e425"/>
<rect x="297.28" y="539.22" width="7.67" height="8.53" fill="#fbd524"/></g></g>
<rect x="311.8" y="321.10" width="10.6" height="226.20" fill="url(#cb)" stroke="#404040" stroke-width="0.7"/>
<path d="M322.4 537.70h-2" stroke="#404040" stroke-width="0.6"/>
<text transform="translate(325.70 541.00) rotate(0.03)" text-anchor="start" font-size="9.4" fill="#262626">5</text>
<path d="M322.4 510.70h-2" stroke="#404040" stroke-width="0.6"/>
<text transform="translate(325.70 514.00) rotate(0.03)" text-anchor="start" font-size="9.4" fill="#262626">10</text>
<path d="M322.4 483.70h-2" stroke="#404040" stroke-width="0.6"/>
<text transform="translate(325.70 487.00) rotate(0.03)" text-anchor="start" font-size="9.4" fill="#262626">15</text>
<path d="M322.4 456.70h-2" stroke="#404040" stroke-width="0.6"/>
<text transform="translate(325.70 460.00) rotate(0.03)" text-anchor="start" font-size="9.4" fill="#262626">20</text>
<path d="M322.4 429.70h-2" stroke="#404040" stroke-width="0.6"/>
<text transform="translate(325.70 433.00) rotate(0.03)" text-anchor="start" font-size="9.4" fill="#262626">25</text>
<path d="M322.4 402.70h-2" stroke="#404040" stroke-width="0.6"/>
<text transform="translate(325.70 406.00) rotate(0.03)" text-anchor="start" font-size="9.4" fill="#262626">30</text>
<path d="M322.4 375.70h-2" stroke="#404040" stroke-width="0.6"/>
<text transform="translate(325.70 379.00) rotate(0.03)" text-anchor="start" font-size="9.4" fill="#262626">35</text>
<path d="M322.4 348.70h-2" stroke="#404040" stroke-width="0.6"/>
<text transform="translate(325.70 352.00) rotate(0.03)" text-anchor="start" font-size="9.4" fill="#262626">40</text>
<path d="M322.4 321.70h-2" stroke="#404040" stroke-width="0.6"/>
<text transform="translate(325.70 325.00) rotate(0.03)" text-anchor="start" font-size="9.4" fill="#262626">45</text>
<text transform="translate(354.3 430.60) rotate(-90)" text-anchor="middle" font-size="11.6" fill="#262626">niminum length of observation (periods)</text>
<text transform="translate(8.6 441.50) rotate(-90)" text-anchor="middle" font-size="11.6" fill="#262626">wavelength (nm)</text>
<text transform="translate(70.80 590.00) rotate(0.03)" text-anchor="start" font-size="11.6" fill="#262626">orbital geometry at t=0 (degree)</text>
<text transform="translate(13.40 310.90) rotate(0.03)" text-anchor="start" font-size="13.2" fill="#000">(b)</text>
<text transform="translate(173.30 310.60) rotate(0.03)" text-anchor="middle" font-size="11.6" fill="#000">Polar-rotated</text>
<circle cx="44.10" cy="569.40" r="5.70" fill="#fff" stroke="#231815" stroke-width="1.2"/>
<path d="M38.44 568.70A5.70 5.70 0 0 1 49.76 568.70z" fill="#231815"/>
<circle cx="109.30" cy="569.40" r="6.3" fill="#231815"/>
<circle cx="174.30" cy="569.40" r="5.70" fill="#fff" stroke="#231815" stroke-width="1.2"/>
<path d="M168.63 570.00A5.70 5.70 0 0 0 179.97 570.00z" fill="#231815"/>
<circle cx="237.50" cy="569.40" r="5.70" fill="#fff" stroke="#231815" stroke-width="1.2"/>
<circle cx="303.40" cy="569.40" r="5.70" fill="#fff" stroke="#231815" stroke-width="1.2"/>
<path d="M297.74 568.70A5.70 5.70 0 0 1 309.06 568.70z" fill="#231815"/>
</svg>
</body></html>
